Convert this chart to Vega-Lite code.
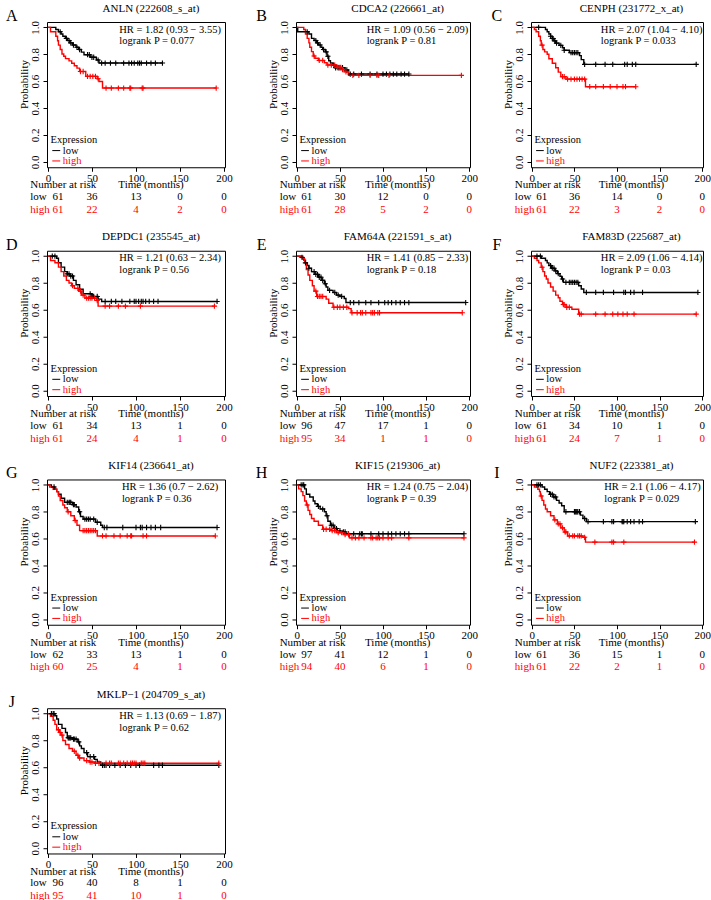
{
"$schema": "https://vega.github.io/schema/vega-lite/v6.json",
"padding": {"left": 5, "top": 2, "right": 0, "bottom": 0},
"autosize": {"type": "pad"},
"background": "white",
"config": {
 "view": {"stroke": "#000000", "strokeWidth": 1},
 "text": {"font": "Liberation Serif", "fontSize": 11, "color": "black"},
 "axis": {"labelFont": "Liberation Serif", "labelFontSize": 11, "labelColor": "black", "tickColor": "black", "tickSize": 4, "tickWidth": 1, "domain": false, "grid": false, "titleFont": "Liberation Serif", "titleFontSize": 11, "titleFontWeight": "normal", "titleColor": "black"},
 "axisX": {"labelPadding": 1, "labelFlush": false, "labelOverlap": false},
 "axisY": {"labelAngle": 270, "labelAlign": "center", "labelBaseline": "bottom", "labelPadding": 3, "labelOverlap": false}
},
"datasets": {
"info": [
{"p":"A","L":"A","gene":"ANLN (222608_s_at)","hr":"HR = 1.82 (0.93 − 3.55)","lr":"logrank P = 0.077"},
{"p":"B","L":"B","gene":"CDCA2 (226661_at)","hr":"HR = 1.09 (0.56 − 2.09)","lr":"logrank P = 0.81"},
{"p":"C","L":"C","gene":"CENPH (231772_x_at)","hr":"HR = 2.07 (1.04 − 4.10)","lr":"logrank P = 0.033"},
{"p":"D","L":"D","gene":"DEPDC1 (235545_at)","hr":"HR = 1.21 (0.63 − 2.34)","lr":"logrank P = 0.56"},
{"p":"E","L":"E","gene":"FAM64A (221591_s_at)","hr":"HR = 1.41 (0.85 − 2.33)","lr":"logrank P = 0.18"},
{"p":"F","L":"F","gene":"FAM83D (225687_at)","hr":"HR = 2.09 (1.06 − 4.14)","lr":"logrank P = 0.03"},
{"p":"G","L":"G","gene":"KIF14 (236641_at)","hr":"HR = 1.36 (0.7 − 2.62)","lr":"logrank P = 0.36"},
{"p":"H","L":"H","gene":"KIF15 (219306_at)","hr":"HR = 1.24 (0.75 − 2.04)","lr":"logrank P = 0.39"},
{"p":"I","L":"I","gene":"NUF2 (223381_at)","hr":"HR = 2.1 (1.06 − 4.17)","lr":"logrank P = 0.029"},
{"p":"J","L":"J","gene":"MKLP−1 (204709_s_at)","hr":"HR = 1.13 (0.69 − 1.87)","lr":"logrank P = 0.62"}
],
"risk": [
{"p":"A","g":"low","t":0,"n":61},{"p":"A","g":"low","t":50,"n":36},{"p":"A","g":"low","t":100,"n":13},{"p":"A","g":"low","t":150,"n":0},{"p":"A","g":"low","t":200,"n":0},
{"p":"A","g":"high","t":0,"n":61},{"p":"A","g":"high","t":50,"n":22},{"p":"A","g":"high","t":100,"n":4},{"p":"A","g":"high","t":150,"n":2},{"p":"A","g":"high","t":200,"n":0},
{"p":"B","g":"low","t":0,"n":61},{"p":"B","g":"low","t":50,"n":30},{"p":"B","g":"low","t":100,"n":12},{"p":"B","g":"low","t":150,"n":0},{"p":"B","g":"low","t":200,"n":0},
{"p":"B","g":"high","t":0,"n":61},{"p":"B","g":"high","t":50,"n":28},{"p":"B","g":"high","t":100,"n":5},{"p":"B","g":"high","t":150,"n":2},{"p":"B","g":"high","t":200,"n":0},
{"p":"C","g":"low","t":0,"n":61},{"p":"C","g":"low","t":50,"n":36},{"p":"C","g":"low","t":100,"n":14},{"p":"C","g":"low","t":150,"n":0},{"p":"C","g":"low","t":200,"n":0},
{"p":"C","g":"high","t":0,"n":61},{"p":"C","g":"high","t":50,"n":22},{"p":"C","g":"high","t":100,"n":3},{"p":"C","g":"high","t":150,"n":2},{"p":"C","g":"high","t":200,"n":0},
{"p":"D","g":"low","t":0,"n":61},{"p":"D","g":"low","t":50,"n":34},{"p":"D","g":"low","t":100,"n":13},{"p":"D","g":"low","t":150,"n":1},{"p":"D","g":"low","t":200,"n":0},
{"p":"D","g":"high","t":0,"n":61},{"p":"D","g":"high","t":50,"n":24},{"p":"D","g":"high","t":100,"n":4},{"p":"D","g":"high","t":150,"n":1},{"p":"D","g":"high","t":200,"n":0},
{"p":"E","g":"low","t":0,"n":96},{"p":"E","g":"low","t":50,"n":47},{"p":"E","g":"low","t":100,"n":17},{"p":"E","g":"low","t":150,"n":1},{"p":"E","g":"low","t":200,"n":0},
{"p":"E","g":"high","t":0,"n":95},{"p":"E","g":"high","t":50,"n":34},{"p":"E","g":"high","t":100,"n":1},{"p":"E","g":"high","t":150,"n":1},{"p":"E","g":"high","t":200,"n":0},
{"p":"F","g":"low","t":0,"n":61},{"p":"F","g":"low","t":50,"n":34},{"p":"F","g":"low","t":100,"n":10},{"p":"F","g":"low","t":150,"n":1},{"p":"F","g":"low","t":200,"n":0},
{"p":"F","g":"high","t":0,"n":61},{"p":"F","g":"high","t":50,"n":24},{"p":"F","g":"high","t":100,"n":7},{"p":"F","g":"high","t":150,"n":1},{"p":"F","g":"high","t":200,"n":0},
{"p":"G","g":"low","t":0,"n":62},{"p":"G","g":"low","t":50,"n":33},{"p":"G","g":"low","t":100,"n":13},{"p":"G","g":"low","t":150,"n":1},{"p":"G","g":"low","t":200,"n":0},
{"p":"G","g":"high","t":0,"n":60},{"p":"G","g":"high","t":50,"n":25},{"p":"G","g":"high","t":100,"n":4},{"p":"G","g":"high","t":150,"n":1},{"p":"G","g":"high","t":200,"n":0},
{"p":"H","g":"low","t":0,"n":97},{"p":"H","g":"low","t":50,"n":41},{"p":"H","g":"low","t":100,"n":12},{"p":"H","g":"low","t":150,"n":1},{"p":"H","g":"low","t":200,"n":0},
{"p":"H","g":"high","t":0,"n":94},{"p":"H","g":"high","t":50,"n":40},{"p":"H","g":"high","t":100,"n":6},{"p":"H","g":"high","t":150,"n":1},{"p":"H","g":"high","t":200,"n":0},
{"p":"I","g":"low","t":0,"n":61},{"p":"I","g":"low","t":50,"n":36},{"p":"I","g":"low","t":100,"n":15},{"p":"I","g":"low","t":150,"n":1},{"p":"I","g":"low","t":200,"n":0},
{"p":"I","g":"high","t":0,"n":61},{"p":"I","g":"high","t":50,"n":22},{"p":"I","g":"high","t":100,"n":2},{"p":"I","g":"high","t":150,"n":1},{"p":"I","g":"high","t":200,"n":0},
{"p":"J","g":"low","t":0,"n":96},{"p":"J","g":"low","t":50,"n":40},{"p":"J","g":"low","t":100,"n":8},{"p":"J","g":"low","t":150,"n":1},{"p":"J","g":"low","t":200,"n":0},
{"p":"J","g":"high","t":0,"n":95},{"p":"J","g":"high","t":50,"n":41},{"p":"J","g":"high","t":100,"n":10},{"p":"J","g":"high","t":150,"n":1},{"p":"J","g":"high","t":200,"n":0}
],
"km": [
{"p":"A","g":"low","t":0,"s":1},{"p":"A","g":"low","t":9,"s":0.984},{"p":"A","g":"low","t":12,"s":0.967},{"p":"A","g":"low","t":15,"s":0.951},{"p":"A","g":"low","t":17,"s":0.934},{"p":"A","g":"low","t":20,"s":0.918},{"p":"A","g":"low","t":22,"s":0.902},{"p":"A","g":"low","t":25,"s":0.885},{"p":"A","g":"low","t":28,"s":0.869},{"p":"A","g":"low","t":32,"s":0.852},{"p":"A","g":"low","t":35,"s":0.835},{"p":"A","g":"low","t":38,"s":0.816},{"p":"A","g":"low","t":41,"s":0.797},{"p":"A","g":"low","t":48,"s":0.778},{"p":"A","g":"low","t":55,"s":0.757},{"p":"A","g":"low","t":58,"s":0.735},{"p":"A","g":"low","t":130,"s":0.735},
{"p":"A","g":"high","t":0,"s":1},{"p":"A","g":"high","t":3,"s":0.967},{"p":"A","g":"high","t":9,"s":0.934},{"p":"A","g":"high","t":11,"s":0.901},{"p":"A","g":"high","t":12,"s":0.868},{"p":"A","g":"high","t":14,"s":0.835},{"p":"A","g":"high","t":16,"s":0.802},{"p":"A","g":"high","t":18,"s":0.785},{"p":"A","g":"high","t":20,"s":0.768},{"p":"A","g":"high","t":24,"s":0.751},{"p":"A","g":"high","t":27,"s":0.733},{"p":"A","g":"high","t":30,"s":0.715},{"p":"A","g":"high","t":33,"s":0.697},{"p":"A","g":"high","t":36,"s":0.672},{"p":"A","g":"high","t":43,"s":0.636},{"p":"A","g":"high","t":56,"s":0.618},{"p":"A","g":"high","t":58,"s":0.598},{"p":"A","g":"high","t":62,"s":0.549},{"p":"A","g":"high","t":191,"s":0.549},
{"p":"B","g":"low","t":0,"s":1},{"p":"B","g":"low","t":1,"s":0.967},{"p":"B","g":"low","t":14,"s":0.951},{"p":"B","g":"low","t":17,"s":0.918},{"p":"B","g":"low","t":20,"s":0.902},{"p":"B","g":"low","t":23,"s":0.885},{"p":"B","g":"low","t":25,"s":0.869},{"p":"B","g":"low","t":28,"s":0.852},{"p":"B","g":"low","t":30,"s":0.835},{"p":"B","g":"low","t":33,"s":0.818},{"p":"B","g":"low","t":35,"s":0.785},{"p":"B","g":"low","t":37,"s":0.752},{"p":"B","g":"low","t":39,"s":0.735},{"p":"B","g":"low","t":42,"s":0.718},{"p":"B","g":"low","t":44,"s":0.7},{"p":"B","g":"low","t":56,"s":0.683},{"p":"B","g":"low","t":60,"s":0.653},{"p":"B","g":"low","t":130,"s":0.653},
{"p":"B","g":"high","t":0,"s":1},{"p":"B","g":"high","t":8,"s":0.984},{"p":"B","g":"high","t":10,"s":0.951},{"p":"B","g":"high","t":12,"s":0.918},{"p":"B","g":"high","t":14,"s":0.885},{"p":"B","g":"high","t":15,"s":0.852},{"p":"B","g":"high","t":17,"s":0.82},{"p":"B","g":"high","t":19,"s":0.787},{"p":"B","g":"high","t":21,"s":0.77},{"p":"B","g":"high","t":25,"s":0.754},{"p":"B","g":"high","t":32,"s":0.737},{"p":"B","g":"high","t":35,"s":0.72},{"p":"B","g":"high","t":46,"s":0.703},{"p":"B","g":"high","t":52,"s":0.686},{"p":"B","g":"high","t":55,"s":0.67},{"p":"B","g":"high","t":60,"s":0.643},{"p":"B","g":"high","t":191,"s":0.643},
{"p":"C","g":"low","t":0,"s":1},{"p":"C","g":"low","t":16,"s":0.984},{"p":"C","g":"low","t":18,"s":0.967},{"p":"C","g":"low","t":20,"s":0.951},{"p":"C","g":"low","t":22,"s":0.934},{"p":"C","g":"low","t":24,"s":0.917},{"p":"C","g":"low","t":26,"s":0.9},{"p":"C","g":"low","t":28,"s":0.883},{"p":"C","g":"low","t":32,"s":0.866},{"p":"C","g":"low","t":36,"s":0.848},{"p":"C","g":"low","t":38,"s":0.83},{"p":"C","g":"low","t":44,"s":0.812},{"p":"C","g":"low","t":56,"s":0.79},{"p":"C","g":"low","t":58,"s":0.76},{"p":"C","g":"low","t":61,"s":0.725},{"p":"C","g":"low","t":193,"s":0.725},
{"p":"C","g":"high","t":0,"s":1},{"p":"C","g":"high","t":3,"s":0.984},{"p":"C","g":"high","t":5,"s":0.967},{"p":"C","g":"high","t":8,"s":0.934},{"p":"C","g":"high","t":10,"s":0.901},{"p":"C","g":"high","t":11,"s":0.868},{"p":"C","g":"high","t":13,"s":0.835},{"p":"C","g":"high","t":15,"s":0.818},{"p":"C","g":"high","t":18,"s":0.8},{"p":"C","g":"high","t":20,"s":0.767},{"p":"C","g":"high","t":24,"s":0.733},{"p":"C","g":"high","t":28,"s":0.7},{"p":"C","g":"high","t":31,"s":0.667},{"p":"C","g":"high","t":34,"s":0.634},{"p":"C","g":"high","t":40,"s":0.615},{"p":"C","g":"high","t":63,"s":0.559},{"p":"C","g":"high","t":122,"s":0.559},
{"p":"D","g":"low","t":0,"s":1},{"p":"D","g":"low","t":10,"s":0.984},{"p":"D","g":"low","t":12,"s":0.951},{"p":"D","g":"low","t":15,"s":0.918},{"p":"D","g":"low","t":19,"s":0.885},{"p":"D","g":"low","t":22,"s":0.868},{"p":"D","g":"low","t":25,"s":0.852},{"p":"D","g":"low","t":29,"s":0.82},{"p":"D","g":"low","t":32,"s":0.787},{"p":"D","g":"low","t":36,"s":0.754},{"p":"D","g":"low","t":40,"s":0.72},{"p":"D","g":"low","t":50,"s":0.7},{"p":"D","g":"low","t":57,"s":0.68},{"p":"D","g":"low","t":61,"s":0.663},{"p":"D","g":"low","t":192,"s":0.663},
{"p":"D","g":"high","t":0,"s":1},{"p":"D","g":"high","t":3,"s":0.967},{"p":"D","g":"high","t":8,"s":0.951},{"p":"D","g":"high","t":12,"s":0.918},{"p":"D","g":"high","t":15,"s":0.885},{"p":"D","g":"high","t":18,"s":0.852},{"p":"D","g":"high","t":21,"s":0.82},{"p":"D","g":"high","t":24,"s":0.8},{"p":"D","g":"high","t":27,"s":0.78},{"p":"D","g":"high","t":30,"s":0.76},{"p":"D","g":"high","t":35,"s":0.74},{"p":"D","g":"high","t":38,"s":0.71},{"p":"D","g":"high","t":42,"s":0.688},{"p":"D","g":"high","t":55,"s":0.67},{"p":"D","g":"high","t":57,"s":0.628},{"p":"D","g":"high","t":189,"s":0.628},
{"p":"E","g":"low","t":0,"s":1},{"p":"E","g":"low","t":5,"s":0.99},{"p":"E","g":"low","t":8,"s":0.97},{"p":"E","g":"low","t":10,"s":0.95},{"p":"E","g":"low","t":12,"s":0.93},{"p":"E","g":"low","t":14,"s":0.91},{"p":"E","g":"low","t":17,"s":0.885},{"p":"E","g":"low","t":21,"s":0.864},{"p":"E","g":"low","t":25,"s":0.843},{"p":"E","g":"low","t":29,"s":0.82},{"p":"E","g":"low","t":32,"s":0.795},{"p":"E","g":"low","t":34,"s":0.77},{"p":"E","g":"low","t":36,"s":0.745},{"p":"E","g":"low","t":42,"s":0.73},{"p":"E","g":"low","t":46,"s":0.71},{"p":"E","g":"low","t":50,"s":0.7},{"p":"E","g":"low","t":55,"s":0.685},{"p":"E","g":"low","t":57,"s":0.655},{"p":"E","g":"low","t":196,"s":0.655},
{"p":"E","g":"high","t":0,"s":1},{"p":"E","g":"high","t":7,"s":0.98},{"p":"E","g":"high","t":9,"s":0.95},{"p":"E","g":"high","t":11,"s":0.9},{"p":"E","g":"high","t":13,"s":0.86},{"p":"E","g":"high","t":15,"s":0.82},{"p":"E","g":"high","t":18,"s":0.78},{"p":"E","g":"high","t":20,"s":0.74},{"p":"E","g":"high","t":23,"s":0.7},{"p":"E","g":"high","t":34,"s":0.68},{"p":"E","g":"high","t":37,"s":0.65},{"p":"E","g":"high","t":42,"s":0.62},{"p":"E","g":"high","t":60,"s":0.61},{"p":"E","g":"high","t":63,"s":0.579},{"p":"E","g":"high","t":192,"s":0.579},
{"p":"F","g":"low","t":0,"s":1},{"p":"F","g":"low","t":11,"s":0.984},{"p":"F","g":"low","t":16,"s":0.967},{"p":"F","g":"low","t":18,"s":0.95},{"p":"F","g":"low","t":20,"s":0.93},{"p":"F","g":"low","t":23,"s":0.91},{"p":"F","g":"low","t":27,"s":0.89},{"p":"F","g":"low","t":30,"s":0.87},{"p":"F","g":"low","t":33,"s":0.85},{"p":"F","g":"low","t":35,"s":0.83},{"p":"F","g":"low","t":37,"s":0.805},{"p":"F","g":"low","t":55,"s":0.78},{"p":"F","g":"low","t":58,"s":0.755},{"p":"F","g":"low","t":61,"s":0.73},{"p":"F","g":"low","t":195,"s":0.73},
{"p":"F","g":"high","t":0,"s":1},{"p":"F","g":"high","t":3,"s":0.984},{"p":"F","g":"high","t":6,"s":0.967},{"p":"F","g":"high","t":8,"s":0.95},{"p":"F","g":"high","t":11,"s":0.917},{"p":"F","g":"high","t":13,"s":0.885},{"p":"F","g":"high","t":15,"s":0.852},{"p":"F","g":"high","t":17,"s":0.83},{"p":"F","g":"high","t":19,"s":0.8},{"p":"F","g":"high","t":22,"s":0.77},{"p":"F","g":"high","t":25,"s":0.74},{"p":"F","g":"high","t":28,"s":0.71},{"p":"F","g":"high","t":31,"s":0.69},{"p":"F","g":"high","t":33,"s":0.665},{"p":"F","g":"high","t":36,"s":0.64},{"p":"F","g":"high","t":40,"s":0.62},{"p":"F","g":"high","t":47,"s":0.605},{"p":"F","g":"high","t":55,"s":0.569},{"p":"F","g":"high","t":193,"s":0.569},
{"p":"G","g":"low","t":0,"s":1},{"p":"G","g":"low","t":4,"s":0.984},{"p":"G","g":"low","t":8,"s":0.967},{"p":"G","g":"low","t":10,"s":0.95},{"p":"G","g":"low","t":12,"s":0.93},{"p":"G","g":"low","t":15,"s":0.9},{"p":"G","g":"low","t":19,"s":0.87},{"p":"G","g":"low","t":28,"s":0.853},{"p":"G","g":"low","t":32,"s":0.835},{"p":"G","g":"low","t":35,"s":0.8},{"p":"G","g":"low","t":37,"s":0.765},{"p":"G","g":"low","t":40,"s":0.745},{"p":"G","g":"low","t":54,"s":0.722},{"p":"G","g":"low","t":60,"s":0.7},{"p":"G","g":"low","t":62,"s":0.683},{"p":"G","g":"low","t":192,"s":0.683},
{"p":"G","g":"high","t":0,"s":1},{"p":"G","g":"high","t":2,"s":0.984},{"p":"G","g":"high","t":6,"s":0.967},{"p":"G","g":"high","t":10,"s":0.95},{"p":"G","g":"high","t":12,"s":0.917},{"p":"G","g":"high","t":14,"s":0.884},{"p":"G","g":"high","t":17,"s":0.85},{"p":"G","g":"high","t":19,"s":0.83},{"p":"G","g":"high","t":22,"s":0.8},{"p":"G","g":"high","t":26,"s":0.77},{"p":"G","g":"high","t":30,"s":0.735},{"p":"G","g":"high","t":33,"s":0.7},{"p":"G","g":"high","t":36,"s":0.66},{"p":"G","g":"high","t":56,"s":0.62},{"p":"G","g":"high","t":190,"s":0.62},
{"p":"H","g":"low","t":0,"s":1},{"p":"H","g":"low","t":9,"s":0.97},{"p":"H","g":"low","t":11,"s":0.93},{"p":"H","g":"low","t":15,"s":0.91},{"p":"H","g":"low","t":19,"s":0.88},{"p":"H","g":"low","t":21,"s":0.86},{"p":"H","g":"low","t":24,"s":0.84},{"p":"H","g":"low","t":27,"s":0.82},{"p":"H","g":"low","t":32,"s":0.8},{"p":"H","g":"low","t":34,"s":0.77},{"p":"H","g":"low","t":36,"s":0.73},{"p":"H","g":"low","t":39,"s":0.7},{"p":"H","g":"low","t":43,"s":0.675},{"p":"H","g":"low","t":47,"s":0.66},{"p":"H","g":"low","t":52,"s":0.65},{"p":"H","g":"low","t":57,"s":0.636},{"p":"H","g":"low","t":194,"s":0.636},
{"p":"H","g":"high","t":0,"s":1},{"p":"H","g":"high","t":2,"s":0.97},{"p":"H","g":"high","t":5,"s":0.95},{"p":"H","g":"high","t":7,"s":0.92},{"p":"H","g":"high","t":9,"s":0.88},{"p":"H","g":"high","t":11,"s":0.85},{"p":"H","g":"high","t":13,"s":0.81},{"p":"H","g":"high","t":15,"s":0.78},{"p":"H","g":"high","t":17,"s":0.75},{"p":"H","g":"high","t":20,"s":0.73},{"p":"H","g":"high","t":25,"s":0.7},{"p":"H","g":"high","t":30,"s":0.67},{"p":"H","g":"high","t":40,"s":0.66},{"p":"H","g":"high","t":46,"s":0.645},{"p":"H","g":"high","t":55,"s":0.63},{"p":"H","g":"high","t":61,"s":0.606},{"p":"H","g":"high","t":194,"s":0.606},
{"p":"I","g":"low","t":0,"s":1},{"p":"I","g":"low","t":12,"s":0.984},{"p":"I","g":"low","t":15,"s":0.967},{"p":"I","g":"low","t":18,"s":0.95},{"p":"I","g":"low","t":21,"s":0.93},{"p":"I","g":"low","t":25,"s":0.91},{"p":"I","g":"low","t":29,"s":0.885},{"p":"I","g":"low","t":32,"s":0.865},{"p":"I","g":"low","t":35,"s":0.845},{"p":"I","g":"low","t":38,"s":0.8},{"p":"I","g":"low","t":57,"s":0.775},{"p":"I","g":"low","t":60,"s":0.75},{"p":"I","g":"low","t":64,"s":0.727},{"p":"I","g":"low","t":192,"s":0.727},
{"p":"I","g":"high","t":0,"s":1},{"p":"I","g":"high","t":3,"s":0.984},{"p":"I","g":"high","t":7,"s":0.967},{"p":"I","g":"high","t":9,"s":0.95},{"p":"I","g":"high","t":10,"s":0.917},{"p":"I","g":"high","t":12,"s":0.885},{"p":"I","g":"high","t":14,"s":0.85},{"p":"I","g":"high","t":16,"s":0.82},{"p":"I","g":"high","t":18,"s":0.8},{"p":"I","g":"high","t":22,"s":0.77},{"p":"I","g":"high","t":26,"s":0.74},{"p":"I","g":"high","t":30,"s":0.71},{"p":"I","g":"high","t":34,"s":0.68},{"p":"I","g":"high","t":38,"s":0.65},{"p":"I","g":"high","t":42,"s":0.62},{"p":"I","g":"high","t":60,"s":0.61},{"p":"I","g":"high","t":63,"s":0.574},{"p":"I","g":"high","t":191,"s":0.574},
{"p":"J","g":"low","t":0,"s":1},{"p":"J","g":"low","t":8,"s":0.984},{"p":"J","g":"low","t":10,"s":0.96},{"p":"J","g":"low","t":12,"s":0.92},{"p":"J","g":"low","t":16,"s":0.89},{"p":"J","g":"low","t":20,"s":0.86},{"p":"J","g":"low","t":22,"s":0.82},{"p":"J","g":"low","t":28,"s":0.81},{"p":"J","g":"low","t":34,"s":0.79},{"p":"J","g":"low","t":36,"s":0.76},{"p":"J","g":"low","t":38,"s":0.74},{"p":"J","g":"low","t":41,"s":0.71},{"p":"J","g":"low","t":45,"s":0.68},{"p":"J","g":"low","t":53,"s":0.66},{"p":"J","g":"low","t":56,"s":0.64},{"p":"J","g":"low","t":60,"s":0.616},{"p":"J","g":"low","t":194,"s":0.616},
{"p":"J","g":"high","t":0,"s":1},{"p":"J","g":"high","t":3,"s":0.98},{"p":"J","g":"high","t":6,"s":0.95},{"p":"J","g":"high","t":8,"s":0.92},{"p":"J","g":"high","t":10,"s":0.88},{"p":"J","g":"high","t":13,"s":0.86},{"p":"J","g":"high","t":15,"s":0.84},{"p":"J","g":"high","t":17,"s":0.8},{"p":"J","g":"high","t":20,"s":0.77},{"p":"J","g":"high","t":24,"s":0.74},{"p":"J","g":"high","t":28,"s":0.72},{"p":"J","g":"high","t":32,"s":0.69},{"p":"J","g":"high","t":35,"s":0.67},{"p":"J","g":"high","t":41,"s":0.65},{"p":"J","g":"high","t":47,"s":0.64},{"p":"J","g":"high","t":53,"s":0.631},{"p":"J","g":"high","t":194,"s":0.631}
],
"cen": [
{"p":"A","g":"low","t":14,"s":0.967},{"p":"A","g":"low","t":21,"s":0.918},{"p":"A","g":"low","t":24,"s":0.902},{"p":"A","g":"low","t":26,"s":0.885},{"p":"A","g":"low","t":29,"s":0.869},{"p":"A","g":"low","t":33,"s":0.852},{"p":"A","g":"low","t":36,"s":0.835},{"p":"A","g":"low","t":45,"s":0.797},{"p":"A","g":"low","t":47,"s":0.797},{"p":"A","g":"low","t":50,"s":0.778},{"p":"A","g":"low","t":52,"s":0.778},{"p":"A","g":"low","t":57,"s":0.757},{"p":"A","g":"low","t":61,"s":0.735},{"p":"A","g":"low","t":65,"s":0.735},{"p":"A","g":"low","t":71,"s":0.735},{"p":"A","g":"low","t":77,"s":0.735},{"p":"A","g":"low","t":86,"s":0.735},{"p":"A","g":"low","t":92,"s":0.735},{"p":"A","g":"low","t":95,"s":0.735},{"p":"A","g":"low","t":98,"s":0.735},{"p":"A","g":"low","t":102,"s":0.735},{"p":"A","g":"low","t":104,"s":0.735},{"p":"A","g":"low","t":106,"s":0.735},{"p":"A","g":"low","t":112,"s":0.735},{"p":"A","g":"low","t":117,"s":0.735},{"p":"A","g":"low","t":122,"s":0.735},{"p":"A","g":"low","t":130,"s":0.735},
{"p":"A","g":"high","t":37,"s":0.672},{"p":"A","g":"high","t":40,"s":0.672},{"p":"A","g":"high","t":45,"s":0.636},{"p":"A","g":"high","t":48,"s":0.636},{"p":"A","g":"high","t":51,"s":0.636},{"p":"A","g":"high","t":54,"s":0.636},{"p":"A","g":"high","t":57,"s":0.618},{"p":"A","g":"high","t":66,"s":0.549},{"p":"A","g":"high","t":72,"s":0.549},{"p":"A","g":"high","t":80,"s":0.549},{"p":"A","g":"high","t":86,"s":0.549},{"p":"A","g":"high","t":93,"s":0.549},{"p":"A","g":"high","t":94,"s":0.549},{"p":"A","g":"high","t":107,"s":0.549},{"p":"A","g":"high","t":108,"s":0.549},{"p":"A","g":"high","t":191,"s":0.549},
{"p":"B","g":"low","t":12,"s":0.967},{"p":"B","g":"low","t":22,"s":0.902},{"p":"B","g":"low","t":24,"s":0.885},{"p":"B","g":"low","t":27,"s":0.869},{"p":"B","g":"low","t":31,"s":0.835},{"p":"B","g":"low","t":34,"s":0.818},{"p":"B","g":"low","t":36,"s":0.785},{"p":"B","g":"low","t":43,"s":0.718},{"p":"B","g":"low","t":45,"s":0.7},{"p":"B","g":"low","t":48,"s":0.7},{"p":"B","g":"low","t":50,"s":0.7},{"p":"B","g":"low","t":53,"s":0.7},{"p":"B","g":"low","t":58,"s":0.683},{"p":"B","g":"low","t":62,"s":0.653},{"p":"B","g":"low","t":66,"s":0.653},{"p":"B","g":"low","t":75,"s":0.653},{"p":"B","g":"low","t":85,"s":0.653},{"p":"B","g":"low","t":93,"s":0.653},{"p":"B","g":"low","t":100,"s":0.653},{"p":"B","g":"low","t":104,"s":0.653},{"p":"B","g":"low","t":108,"s":0.653},{"p":"B","g":"low","t":112,"s":0.653},{"p":"B","g":"low","t":116,"s":0.653},{"p":"B","g":"low","t":121,"s":0.653},{"p":"B","g":"low","t":125,"s":0.653},{"p":"B","g":"low","t":130,"s":0.653},
{"p":"B","g":"high","t":20,"s":0.787},{"p":"B","g":"high","t":26,"s":0.754},{"p":"B","g":"high","t":30,"s":0.754},{"p":"B","g":"high","t":36,"s":0.72},{"p":"B","g":"high","t":40,"s":0.72},{"p":"B","g":"high","t":44,"s":0.72},{"p":"B","g":"high","t":47,"s":0.703},{"p":"B","g":"high","t":49,"s":0.703},{"p":"B","g":"high","t":51,"s":0.703},{"p":"B","g":"high","t":53,"s":0.686},{"p":"B","g":"high","t":57,"s":0.67},{"p":"B","g":"high","t":65,"s":0.643},{"p":"B","g":"high","t":72,"s":0.643},{"p":"B","g":"high","t":85,"s":0.643},{"p":"B","g":"high","t":93,"s":0.643},{"p":"B","g":"high","t":95,"s":0.643},{"p":"B","g":"high","t":107,"s":0.643},{"p":"B","g":"high","t":191,"s":0.643},
{"p":"C","g":"low","t":8,"s":1},{"p":"C","g":"low","t":22,"s":0.934},{"p":"C","g":"low","t":24,"s":0.917},{"p":"C","g":"low","t":25,"s":0.917},{"p":"C","g":"low","t":27,"s":0.9},{"p":"C","g":"low","t":29,"s":0.883},{"p":"C","g":"low","t":34,"s":0.866},{"p":"C","g":"low","t":38,"s":0.83},{"p":"C","g":"low","t":46,"s":0.812},{"p":"C","g":"low","t":48,"s":0.812},{"p":"C","g":"low","t":50,"s":0.812},{"p":"C","g":"low","t":52,"s":0.812},{"p":"C","g":"low","t":54,"s":0.812},{"p":"C","g":"low","t":62,"s":0.725},{"p":"C","g":"low","t":75,"s":0.725},{"p":"C","g":"low","t":86,"s":0.725},{"p":"C","g":"low","t":95,"s":0.725},{"p":"C","g":"low","t":109,"s":0.725},{"p":"C","g":"low","t":112,"s":0.725},{"p":"C","g":"low","t":118,"s":0.725},{"p":"C","g":"low","t":122,"s":0.725},{"p":"C","g":"low","t":193,"s":0.725},
{"p":"C","g":"high","t":12,"s":0.868},{"p":"C","g":"high","t":36,"s":0.634},{"p":"C","g":"high","t":38,"s":0.634},{"p":"C","g":"high","t":42,"s":0.615},{"p":"C","g":"high","t":46,"s":0.615},{"p":"C","g":"high","t":50,"s":0.615},{"p":"C","g":"high","t":53,"s":0.615},{"p":"C","g":"high","t":56,"s":0.615},{"p":"C","g":"high","t":59,"s":0.615},{"p":"C","g":"high","t":62,"s":0.615},{"p":"C","g":"high","t":68,"s":0.559},{"p":"C","g":"high","t":75,"s":0.559},{"p":"C","g":"high","t":84,"s":0.559},{"p":"C","g":"high","t":92,"s":0.559},{"p":"C","g":"high","t":100,"s":0.559},{"p":"C","g":"high","t":107,"s":0.559},{"p":"C","g":"high","t":110,"s":0.559},{"p":"C","g":"high","t":122,"s":0.559},
{"p":"D","g":"low","t":5,"s":1},{"p":"D","g":"low","t":8,"s":1},{"p":"D","g":"low","t":22,"s":0.868},{"p":"D","g":"low","t":24,"s":0.868},{"p":"D","g":"low","t":26,"s":0.852},{"p":"D","g":"low","t":28,"s":0.852},{"p":"D","g":"low","t":48,"s":0.72},{"p":"D","g":"low","t":50,"s":0.7},{"p":"D","g":"low","t":51,"s":0.7},{"p":"D","g":"low","t":52,"s":0.7},{"p":"D","g":"low","t":56,"s":0.7},{"p":"D","g":"low","t":65,"s":0.663},{"p":"D","g":"low","t":72,"s":0.663},{"p":"D","g":"low","t":77,"s":0.663},{"p":"D","g":"low","t":84,"s":0.663},{"p":"D","g":"low","t":93,"s":0.663},{"p":"D","g":"low","t":98,"s":0.663},{"p":"D","g":"low","t":100,"s":0.663},{"p":"D","g":"low","t":103,"s":0.663},{"p":"D","g":"low","t":106,"s":0.663},{"p":"D","g":"low","t":108,"s":0.663},{"p":"D","g":"low","t":111,"s":0.663},{"p":"D","g":"low","t":115,"s":0.663},{"p":"D","g":"low","t":120,"s":0.663},{"p":"D","g":"low","t":125,"s":0.663},{"p":"D","g":"low","t":192,"s":0.663},
{"p":"D","g":"high","t":28,"s":0.78},{"p":"D","g":"high","t":34,"s":0.76},{"p":"D","g":"high","t":37,"s":0.74},{"p":"D","g":"high","t":40,"s":0.71},{"p":"D","g":"high","t":44,"s":0.688},{"p":"D","g":"high","t":46,"s":0.688},{"p":"D","g":"high","t":48,"s":0.688},{"p":"D","g":"high","t":50,"s":0.688},{"p":"D","g":"high","t":53,"s":0.688},{"p":"D","g":"high","t":56,"s":0.67},{"p":"D","g":"high","t":65,"s":0.628},{"p":"D","g":"high","t":70,"s":0.628},{"p":"D","g":"high","t":80,"s":0.628},{"p":"D","g":"high","t":88,"s":0.628},{"p":"D","g":"high","t":105,"s":0.628},{"p":"D","g":"high","t":189,"s":0.628},
{"p":"E","g":"low","t":6,"s":0.99},{"p":"E","g":"low","t":10,"s":0.95},{"p":"E","g":"low","t":14,"s":0.91},{"p":"E","g":"low","t":20,"s":0.885},{"p":"E","g":"low","t":22,"s":0.864},{"p":"E","g":"low","t":24,"s":0.864},{"p":"E","g":"low","t":26,"s":0.843},{"p":"E","g":"low","t":28,"s":0.843},{"p":"E","g":"low","t":30,"s":0.82},{"p":"E","g":"low","t":33,"s":0.795},{"p":"E","g":"low","t":38,"s":0.745},{"p":"E","g":"low","t":44,"s":0.73},{"p":"E","g":"low","t":48,"s":0.71},{"p":"E","g":"low","t":52,"s":0.7},{"p":"E","g":"low","t":62,"s":0.655},{"p":"E","g":"low","t":66,"s":0.655},{"p":"E","g":"low","t":72,"s":0.655},{"p":"E","g":"low","t":80,"s":0.655},{"p":"E","g":"low","t":86,"s":0.655},{"p":"E","g":"low","t":95,"s":0.655},{"p":"E","g":"low","t":102,"s":0.655},{"p":"E","g":"low","t":106,"s":0.655},{"p":"E","g":"low","t":110,"s":0.655},{"p":"E","g":"low","t":115,"s":0.655},{"p":"E","g":"low","t":120,"s":0.655},{"p":"E","g":"low","t":125,"s":0.655},{"p":"E","g":"low","t":130,"s":0.655},{"p":"E","g":"low","t":196,"s":0.655},
{"p":"E","g":"high","t":22,"s":0.74},{"p":"E","g":"high","t":24,"s":0.7},{"p":"E","g":"high","t":26,"s":0.7},{"p":"E","g":"high","t":28,"s":0.7},{"p":"E","g":"high","t":30,"s":0.7},{"p":"E","g":"high","t":43,"s":0.62},{"p":"E","g":"high","t":47,"s":0.62},{"p":"E","g":"high","t":50,"s":0.62},{"p":"E","g":"high","t":54,"s":0.62},{"p":"E","g":"high","t":58,"s":0.62},{"p":"E","g":"high","t":64,"s":0.579},{"p":"E","g":"high","t":70,"s":0.579},{"p":"E","g":"high","t":74,"s":0.579},{"p":"E","g":"high","t":76,"s":0.579},{"p":"E","g":"high","t":80,"s":0.579},{"p":"E","g":"high","t":86,"s":0.579},{"p":"E","g":"high","t":88,"s":0.579},{"p":"E","g":"high","t":90,"s":0.579},{"p":"E","g":"high","t":94,"s":0.579},{"p":"E","g":"high","t":96,"s":0.579},{"p":"E","g":"high","t":192,"s":0.579},
{"p":"F","g":"low","t":6,"s":1},{"p":"F","g":"low","t":10,"s":1},{"p":"F","g":"low","t":22,"s":0.93},{"p":"F","g":"low","t":24,"s":0.91},{"p":"F","g":"low","t":26,"s":0.91},{"p":"F","g":"low","t":28,"s":0.89},{"p":"F","g":"low","t":31,"s":0.87},{"p":"F","g":"low","t":36,"s":0.83},{"p":"F","g":"low","t":40,"s":0.805},{"p":"F","g":"low","t":44,"s":0.805},{"p":"F","g":"low","t":46,"s":0.805},{"p":"F","g":"low","t":48,"s":0.805},{"p":"F","g":"low","t":50,"s":0.805},{"p":"F","g":"low","t":52,"s":0.805},{"p":"F","g":"low","t":54,"s":0.805},{"p":"F","g":"low","t":64,"s":0.73},{"p":"F","g":"low","t":75,"s":0.73},{"p":"F","g":"low","t":84,"s":0.73},{"p":"F","g":"low","t":96,"s":0.73},{"p":"F","g":"low","t":108,"s":0.73},{"p":"F","g":"low","t":110,"s":0.73},{"p":"F","g":"low","t":116,"s":0.73},{"p":"F","g":"low","t":120,"s":0.73},{"p":"F","g":"low","t":130,"s":0.73},{"p":"F","g":"low","t":195,"s":0.73},
{"p":"F","g":"high","t":12,"s":0.917},{"p":"F","g":"high","t":37,"s":0.64},{"p":"F","g":"high","t":38,"s":0.64},{"p":"F","g":"high","t":41,"s":0.62},{"p":"F","g":"high","t":44,"s":0.62},{"p":"F","g":"high","t":56,"s":0.569},{"p":"F","g":"high","t":58,"s":0.569},{"p":"F","g":"high","t":75,"s":0.569},{"p":"F","g":"high","t":86,"s":0.569},{"p":"F","g":"high","t":95,"s":0.569},{"p":"F","g":"high","t":101,"s":0.569},{"p":"F","g":"high","t":107,"s":0.569},{"p":"F","g":"high","t":112,"s":0.569},{"p":"F","g":"high","t":120,"s":0.569},{"p":"F","g":"high","t":193,"s":0.569},
{"p":"G","g":"low","t":7,"s":0.984},{"p":"G","g":"low","t":22,"s":0.87},{"p":"G","g":"low","t":24,"s":0.87},{"p":"G","g":"low","t":25,"s":0.87},{"p":"G","g":"low","t":26,"s":0.87},{"p":"G","g":"low","t":29,"s":0.853},{"p":"G","g":"low","t":30,"s":0.853},{"p":"G","g":"low","t":36,"s":0.8},{"p":"G","g":"low","t":42,"s":0.745},{"p":"G","g":"low","t":44,"s":0.745},{"p":"G","g":"low","t":46,"s":0.745},{"p":"G","g":"low","t":48,"s":0.745},{"p":"G","g":"low","t":52,"s":0.745},{"p":"G","g":"low","t":56,"s":0.722},{"p":"G","g":"low","t":64,"s":0.683},{"p":"G","g":"low","t":67,"s":0.683},{"p":"G","g":"low","t":85,"s":0.683},{"p":"G","g":"low","t":100,"s":0.683},{"p":"G","g":"low","t":105,"s":0.683},{"p":"G","g":"low","t":107,"s":0.683},{"p":"G","g":"low","t":112,"s":0.683},{"p":"G","g":"low","t":117,"s":0.683},{"p":"G","g":"low","t":122,"s":0.683},{"p":"G","g":"low","t":128,"s":0.683},{"p":"G","g":"low","t":192,"s":0.683},
{"p":"G","g":"high","t":23,"s":0.8},{"p":"G","g":"high","t":31,"s":0.735},{"p":"G","g":"high","t":40,"s":0.66},{"p":"G","g":"high","t":42,"s":0.66},{"p":"G","g":"high","t":44,"s":0.66},{"p":"G","g":"high","t":46,"s":0.66},{"p":"G","g":"high","t":48,"s":0.66},{"p":"G","g":"high","t":50,"s":0.66},{"p":"G","g":"high","t":52,"s":0.66},{"p":"G","g":"high","t":54,"s":0.66},{"p":"G","g":"high","t":62,"s":0.62},{"p":"G","g":"high","t":66,"s":0.62},{"p":"G","g":"high","t":75,"s":0.62},{"p":"G","g":"high","t":82,"s":0.62},{"p":"G","g":"high","t":90,"s":0.62},{"p":"G","g":"high","t":94,"s":0.62},{"p":"G","g":"high","t":95,"s":0.62},{"p":"G","g":"high","t":108,"s":0.62},{"p":"G","g":"high","t":112,"s":0.62},{"p":"G","g":"high","t":190,"s":0.62},
{"p":"H","g":"low","t":5,"s":1},{"p":"H","g":"low","t":7,"s":1},{"p":"H","g":"low","t":8,"s":1},{"p":"H","g":"low","t":25,"s":0.84},{"p":"H","g":"low","t":30,"s":0.82},{"p":"H","g":"low","t":35,"s":0.77},{"p":"H","g":"low","t":40,"s":0.7},{"p":"H","g":"low","t":42,"s":0.7},{"p":"H","g":"low","t":44,"s":0.675},{"p":"H","g":"low","t":46,"s":0.675},{"p":"H","g":"low","t":50,"s":0.66},{"p":"H","g":"low","t":54,"s":0.65},{"p":"H","g":"low","t":56,"s":0.65},{"p":"H","g":"low","t":60,"s":0.636},{"p":"H","g":"low","t":66,"s":0.636},{"p":"H","g":"low","t":73,"s":0.636},{"p":"H","g":"low","t":75,"s":0.636},{"p":"H","g":"low","t":76,"s":0.636},{"p":"H","g":"low","t":86,"s":0.636},{"p":"H","g":"low","t":95,"s":0.636},{"p":"H","g":"low","t":100,"s":0.636},{"p":"H","g":"low","t":106,"s":0.636},{"p":"H","g":"low","t":110,"s":0.636},{"p":"H","g":"low","t":115,"s":0.636},{"p":"H","g":"low","t":120,"s":0.636},{"p":"H","g":"low","t":125,"s":0.636},{"p":"H","g":"low","t":130,"s":0.636},{"p":"H","g":"low","t":194,"s":0.636},
{"p":"H","g":"high","t":12,"s":0.85},{"p":"H","g":"high","t":31,"s":0.67},{"p":"H","g":"high","t":34,"s":0.67},{"p":"H","g":"high","t":38,"s":0.67},{"p":"H","g":"high","t":41,"s":0.66},{"p":"H","g":"high","t":44,"s":0.66},{"p":"H","g":"high","t":48,"s":0.645},{"p":"H","g":"high","t":52,"s":0.645},{"p":"H","g":"high","t":56,"s":0.63},{"p":"H","g":"high","t":60,"s":0.63},{"p":"H","g":"high","t":64,"s":0.606},{"p":"H","g":"high","t":68,"s":0.606},{"p":"H","g":"high","t":72,"s":0.606},{"p":"H","g":"high","t":78,"s":0.606},{"p":"H","g":"high","t":86,"s":0.606},{"p":"H","g":"high","t":88,"s":0.606},{"p":"H","g":"high","t":92,"s":0.606},{"p":"H","g":"high","t":94,"s":0.606},{"p":"H","g":"high","t":96,"s":0.606},{"p":"H","g":"high","t":100,"s":0.606},{"p":"H","g":"high","t":106,"s":0.606},{"p":"H","g":"high","t":110,"s":0.606},{"p":"H","g":"high","t":130,"s":0.606},{"p":"H","g":"high","t":194,"s":0.606},
{"p":"I","g":"low","t":6,"s":1},{"p":"I","g":"low","t":8,"s":1},{"p":"I","g":"low","t":10,"s":1},{"p":"I","g":"low","t":22,"s":0.93},{"p":"I","g":"low","t":24,"s":0.93},{"p":"I","g":"low","t":26,"s":0.91},{"p":"I","g":"low","t":28,"s":0.91},{"p":"I","g":"low","t":40,"s":0.8},{"p":"I","g":"low","t":50,"s":0.8},{"p":"I","g":"low","t":51,"s":0.8},{"p":"I","g":"low","t":52,"s":0.8},{"p":"I","g":"low","t":53,"s":0.8},{"p":"I","g":"low","t":54,"s":0.8},{"p":"I","g":"low","t":56,"s":0.8},{"p":"I","g":"low","t":62,"s":0.75},{"p":"I","g":"low","t":66,"s":0.727},{"p":"I","g":"low","t":84,"s":0.727},{"p":"I","g":"low","t":94,"s":0.727},{"p":"I","g":"low","t":96,"s":0.727},{"p":"I","g":"low","t":106,"s":0.727},{"p":"I","g":"low","t":107,"s":0.727},{"p":"I","g":"low","t":108,"s":0.727},{"p":"I","g":"low","t":112,"s":0.727},{"p":"I","g":"low","t":116,"s":0.727},{"p":"I","g":"low","t":120,"s":0.727},{"p":"I","g":"low","t":126,"s":0.727},{"p":"I","g":"low","t":130,"s":0.727},{"p":"I","g":"low","t":192,"s":0.727},
{"p":"I","g":"high","t":11,"s":0.917},{"p":"I","g":"high","t":27,"s":0.74},{"p":"I","g":"high","t":31,"s":0.71},{"p":"I","g":"high","t":33,"s":0.71},{"p":"I","g":"high","t":36,"s":0.68},{"p":"I","g":"high","t":39,"s":0.65},{"p":"I","g":"high","t":40,"s":0.65},{"p":"I","g":"high","t":44,"s":0.62},{"p":"I","g":"high","t":48,"s":0.62},{"p":"I","g":"high","t":50,"s":0.62},{"p":"I","g":"high","t":54,"s":0.62},{"p":"I","g":"high","t":56,"s":0.62},{"p":"I","g":"high","t":58,"s":0.62},{"p":"I","g":"high","t":62,"s":0.61},{"p":"I","g":"high","t":74,"s":0.574},{"p":"I","g":"high","t":94,"s":0.574},{"p":"I","g":"high","t":96,"s":0.574},{"p":"I","g":"high","t":108,"s":0.574},{"p":"I","g":"high","t":191,"s":0.574},
{"p":"J","g":"low","t":4,"s":1},{"p":"J","g":"low","t":6,"s":1},{"p":"J","g":"low","t":7,"s":1},{"p":"J","g":"low","t":23,"s":0.82},{"p":"J","g":"low","t":24,"s":0.82},{"p":"J","g":"low","t":25,"s":0.82},{"p":"J","g":"low","t":26,"s":0.82},{"p":"J","g":"low","t":29,"s":0.81},{"p":"J","g":"low","t":30,"s":0.81},{"p":"J","g":"low","t":32,"s":0.81},{"p":"J","g":"low","t":35,"s":0.79},{"p":"J","g":"low","t":44,"s":0.71},{"p":"J","g":"low","t":48,"s":0.68},{"p":"J","g":"low","t":52,"s":0.68},{"p":"J","g":"low","t":62,"s":0.616},{"p":"J","g":"low","t":64,"s":0.616},{"p":"J","g":"low","t":66,"s":0.616},{"p":"J","g":"low","t":70,"s":0.616},{"p":"J","g":"low","t":76,"s":0.616},{"p":"J","g":"low","t":82,"s":0.616},{"p":"J","g":"low","t":88,"s":0.616},{"p":"J","g":"low","t":94,"s":0.616},{"p":"J","g":"low","t":100,"s":0.616},{"p":"J","g":"low","t":104,"s":0.616},{"p":"J","g":"low","t":120,"s":0.616},{"p":"J","g":"low","t":126,"s":0.616},{"p":"J","g":"low","t":130,"s":0.616},{"p":"J","g":"low","t":194,"s":0.616},
{"p":"J","g":"high","t":12,"s":0.88},{"p":"J","g":"high","t":14,"s":0.86},{"p":"J","g":"high","t":16,"s":0.84},{"p":"J","g":"high","t":30,"s":0.72},{"p":"J","g":"high","t":34,"s":0.69},{"p":"J","g":"high","t":36,"s":0.67},{"p":"J","g":"high","t":44,"s":0.65},{"p":"J","g":"high","t":48,"s":0.64},{"p":"J","g":"high","t":50,"s":0.64},{"p":"J","g":"high","t":54,"s":0.631},{"p":"J","g":"high","t":58,"s":0.631},{"p":"J","g":"high","t":66,"s":0.631},{"p":"J","g":"high","t":70,"s":0.631},{"p":"J","g":"high","t":72,"s":0.631},{"p":"J","g":"high","t":80,"s":0.631},{"p":"J","g":"high","t":82,"s":0.631},{"p":"J","g":"high","t":86,"s":0.631},{"p":"J","g":"high","t":90,"s":0.631},{"p":"J","g":"high","t":94,"s":0.631},{"p":"J","g":"high","t":96,"s":0.631},{"p":"J","g":"high","t":98,"s":0.631},{"p":"J","g":"high","t":100,"s":0.631},{"p":"J","g":"high","t":106,"s":0.631},{"p":"J","g":"high","t":108,"s":0.631},{"p":"J","g":"high","t":110,"s":0.631},{"p":"J","g":"high","t":194,"s":0.631}
]
},
"columns": 5,
"spacing": {"row": 82.74, "column": 0},
"bounds": "flush",
"concat": [
{"width":178,"height":145.26,"data":{"name":"info"},"transform":[{"filter":"datum.p=='A'"}],"layer":[
{"data":{"name":"km"},"transform":[{"filter":"datum.p=='A'"}],"mark":{"type":"line","interpolate":"step-after","strokeWidth":1.4},"encoding":{"x":{"field":"t","type":"quantitative","scale":{"domain":[-1,201],"nice":false,"zero":false},"axis":{"orient":"bottom","values":[0,50,100,150,200],"tickCount":12,"title":null,"labelOverlap":false}},"y":{"field":"s","type":"quantitative","scale":{"domain":[-0.04,1.04],"nice":false,"zero":false},"axis":{"orient":"left","values":[0,0.2,0.4,0.6,0.8,1],"tickCount":12,"format":".1f","labelOverlap":false,"title":"Probability","titleX":-18,"titleY":62,"titleAngle":270,"titleBaseline":"bottom","titleAlign":"center"}},"color":{"field":"g","type":"nominal","scale":{"domain":["low","high"],"range":["#000000","#ff0000"]},"legend":null}}},
{"data":{"name":"cen"},"transform":[{"filter":"datum.p=='A'"}],"mark":{"type":"point","shape":"M-1,0L1,0M0,-1L0,1","size":28,"strokeWidth":1.1,"filled":false,"opacity":1},"encoding":{"x":{"field":"t","type":"quantitative"},"y":{"field":"s","type":"quantitative"},"color":{"field":"g","type":"nominal","legend":null}}},
{"mark":{"type":"text","align":"left","baseline":"middle","fontSize":10.5},"encoding":{"x":{"datum":81},"y":{"datum":0.9835},"text":{"field":"hr"}}},
{"mark":{"type":"text","align":"left","baseline":"middle","fontSize":10.5},"encoding":{"x":{"datum":81},"y":{"datum":0.8965},"text":{"field":"lr"}}},
{"mark":{"type":"text","align":"left","baseline":"middle","fontSize":10.5,"text":"Expression"},"encoding":{"x":{"datum":3},"y":{"datum":0.162}}},
{"mark":{"type":"rule","color":"#000000"},"encoding":{"x":{"datum":5},"x2":{"datum":14},"y":{"datum":0.084}}},
{"mark":{"type":"rule","color":"#ff0000"},"encoding":{"x":{"datum":5},"x2":{"datum":14},"y":{"datum":0.007}}},
{"mark":{"type":"text","align":"left","baseline":"middle","fontSize":10.5,"text":"low"},"encoding":{"x":{"datum":17},"y":{"datum":0.084}}},
{"mark":{"type":"text","align":"left","baseline":"middle","fontSize":10.5,"text":"high","color":"#ff0000"},"encoding":{"x":{"datum":17},"y":{"datum":0.007}}},
{"mark":{"type":"text","align":"center","baseline":"middle","fontSize":16},"encoding":{"x":{"datum":-41},"y":{"datum":1.085},"text":{"field":"L"}}},
{"mark":{"type":"text","align":"center","baseline":"middle"},"encoding":{"x":{"datum":117},"y":{"datum":1.14},"text":{"field":"gene"}}},
{"mark":{"type":"text","align":"left","baseline":"middle","text":"Number at risk"},"encoding":{"x":{"datum":-20},"y":{"datum":-0.174}}},
{"mark":{"type":"text","align":"center","baseline":"middle","text":"Time (months)"},"encoding":{"x":{"datum":117},"y":{"datum":-0.174}}},
{"mark":{"type":"text","align":"left","baseline":"middle","text":"low"},"encoding":{"x":{"datum":-20},"y":{"datum":-0.263}}},
{"mark":{"type":"text","align":"left","baseline":"middle","text":"high","color":"#ff0000"},"encoding":{"x":{"datum":-20},"y":{"datum":-0.357}}},
{"data":{"name":"risk"},"transform":[{"filter":"datum.p=='A'&&datum.g=='low'&&datum.t==0"}],"mark":{"type":"text","align":"left","baseline":"middle","dx":4.5},"encoding":{"x":{"field":"t","type":"quantitative"},"y":{"datum":-0.263},"text":{"field":"n"}}},
{"data":{"name":"risk"},"transform":[{"filter":"datum.p=='A'&&datum.g=='low'&&datum.t>0"}],"mark":{"type":"text","align":"center","baseline":"middle"},"encoding":{"x":{"field":"t","type":"quantitative"},"y":{"datum":-0.263},"text":{"field":"n"}}},
{"data":{"name":"risk"},"transform":[{"filter":"datum.p=='A'&&datum.g=='high'&&datum.t==0"}],"mark":{"type":"text","align":"left","baseline":"middle","dx":4.5,"color":"#ff0000"},"encoding":{"x":{"field":"t","type":"quantitative"},"y":{"datum":-0.357},"text":{"field":"n"}}},
{"data":{"name":"risk"},"transform":[{"filter":"datum.p=='A'&&datum.g=='high'&&datum.t>0"}],"mark":{"type":"text","align":"center","baseline":"middle","color":"#ff0000"},"encoding":{"x":{"field":"t","type":"quantitative"},"y":{"datum":-0.357},"text":{"field":"n"}}}
]},
{"width":70.3,"height":1,"view":{"stroke":null},"data":{"values":[]},"mark":"point"},
{"width":174,"height":145.26,"data":{"name":"info"},"transform":[{"filter":"datum.p=='B'"}],"layer":[
{"data":{"name":"km"},"transform":[{"filter":"datum.p=='B'"}],"mark":{"type":"line","interpolate":"step-after","strokeWidth":1.4},"encoding":{"x":{"field":"t","type":"quantitative","scale":{"domain":[-1,201],"nice":false,"zero":false},"axis":{"orient":"bottom","values":[0,50,100,150,200],"tickCount":12,"title":null,"labelOverlap":false}},"y":{"field":"s","type":"quantitative","scale":{"domain":[-0.04,1.04],"nice":false,"zero":false},"axis":{"orient":"left","values":[0,0.2,0.4,0.6,0.8,1],"tickCount":12,"format":".1f","labelOverlap":false,"title":"Probability","titleX":-18,"titleY":62,"titleAngle":270,"titleBaseline":"bottom","titleAlign":"center"}},"color":{"field":"g","type":"nominal","scale":{"domain":["low","high"],"range":["#000000","#ff0000"]},"legend":null}}},
{"data":{"name":"cen"},"transform":[{"filter":"datum.p=='B'"}],"mark":{"type":"point","shape":"M-1,0L1,0M0,-1L0,1","size":28,"strokeWidth":1.1,"filled":false,"opacity":1},"encoding":{"x":{"field":"t","type":"quantitative"},"y":{"field":"s","type":"quantitative"},"color":{"field":"g","type":"nominal","legend":null}}},
{"mark":{"type":"text","align":"left","baseline":"middle","fontSize":10.5},"encoding":{"x":{"datum":81},"y":{"datum":0.9835},"text":{"field":"hr"}}},
{"mark":{"type":"text","align":"left","baseline":"middle","fontSize":10.5},"encoding":{"x":{"datum":81},"y":{"datum":0.8965},"text":{"field":"lr"}}},
{"mark":{"type":"text","align":"left","baseline":"middle","fontSize":10.5,"text":"Expression"},"encoding":{"x":{"datum":3},"y":{"datum":0.162}}},
{"mark":{"type":"rule","color":"#000000"},"encoding":{"x":{"datum":5},"x2":{"datum":14},"y":{"datum":0.084}}},
{"mark":{"type":"rule","color":"#ff0000"},"encoding":{"x":{"datum":5},"x2":{"datum":14},"y":{"datum":0.007}}},
{"mark":{"type":"text","align":"left","baseline":"middle","fontSize":10.5,"text":"low"},"encoding":{"x":{"datum":17},"y":{"datum":0.084}}},
{"mark":{"type":"text","align":"left","baseline":"middle","fontSize":10.5,"text":"high","color":"#ff0000"},"encoding":{"x":{"datum":17},"y":{"datum":0.007}}},
{"mark":{"type":"text","align":"center","baseline":"middle","fontSize":16},"encoding":{"x":{"datum":-41},"y":{"datum":1.085},"text":{"field":"L"}}},
{"mark":{"type":"text","align":"center","baseline":"middle"},"encoding":{"x":{"datum":117},"y":{"datum":1.14},"text":{"field":"gene"}}},
{"mark":{"type":"text","align":"left","baseline":"middle","text":"Number at risk"},"encoding":{"x":{"datum":-20},"y":{"datum":-0.174}}},
{"mark":{"type":"text","align":"center","baseline":"middle","text":"Time (months)"},"encoding":{"x":{"datum":117},"y":{"datum":-0.174}}},
{"mark":{"type":"text","align":"left","baseline":"middle","text":"low"},"encoding":{"x":{"datum":-20},"y":{"datum":-0.263}}},
{"mark":{"type":"text","align":"left","baseline":"middle","text":"high","color":"#ff0000"},"encoding":{"x":{"datum":-20},"y":{"datum":-0.357}}},
{"data":{"name":"risk"},"transform":[{"filter":"datum.p=='B'&&datum.g=='low'&&datum.t==0"}],"mark":{"type":"text","align":"left","baseline":"middle","dx":4.5},"encoding":{"x":{"field":"t","type":"quantitative"},"y":{"datum":-0.263},"text":{"field":"n"}}},
{"data":{"name":"risk"},"transform":[{"filter":"datum.p=='B'&&datum.g=='low'&&datum.t>0"}],"mark":{"type":"text","align":"center","baseline":"middle"},"encoding":{"x":{"field":"t","type":"quantitative"},"y":{"datum":-0.263},"text":{"field":"n"}}},
{"data":{"name":"risk"},"transform":[{"filter":"datum.p=='B'&&datum.g=='high'&&datum.t==0"}],"mark":{"type":"text","align":"left","baseline":"middle","dx":4.5,"color":"#ff0000"},"encoding":{"x":{"field":"t","type":"quantitative"},"y":{"datum":-0.357},"text":{"field":"n"}}},
{"data":{"name":"risk"},"transform":[{"filter":"datum.p=='B'&&datum.g=='high'&&datum.t>0"}],"mark":{"type":"text","align":"center","baseline":"middle","color":"#ff0000"},"encoding":{"x":{"field":"t","type":"quantitative"},"y":{"datum":-0.357},"text":{"field":"n"}}}
]},
{"width":61,"height":1,"view":{"stroke":null},"data":{"values":[]},"mark":"point"},
{"width":172,"height":145.26,"data":{"name":"info"},"transform":[{"filter":"datum.p=='C'"}],"layer":[
{"data":{"name":"km"},"transform":[{"filter":"datum.p=='C'"}],"mark":{"type":"line","interpolate":"step-after","strokeWidth":1.4},"encoding":{"x":{"field":"t","type":"quantitative","scale":{"domain":[-1,201],"nice":false,"zero":false},"axis":{"orient":"bottom","values":[0,50,100,150,200],"tickCount":12,"title":null,"labelOverlap":false}},"y":{"field":"s","type":"quantitative","scale":{"domain":[-0.04,1.04],"nice":false,"zero":false},"axis":{"orient":"left","values":[0,0.2,0.4,0.6,0.8,1],"tickCount":12,"format":".1f","labelOverlap":false,"title":"Probability","titleX":-18,"titleY":62,"titleAngle":270,"titleBaseline":"bottom","titleAlign":"center"}},"color":{"field":"g","type":"nominal","scale":{"domain":["low","high"],"range":["#000000","#ff0000"]},"legend":null}}},
{"data":{"name":"cen"},"transform":[{"filter":"datum.p=='C'"}],"mark":{"type":"point","shape":"M-1,0L1,0M0,-1L0,1","size":28,"strokeWidth":1.1,"filled":false,"opacity":1},"encoding":{"x":{"field":"t","type":"quantitative"},"y":{"field":"s","type":"quantitative"},"color":{"field":"g","type":"nominal","legend":null}}},
{"mark":{"type":"text","align":"left","baseline":"middle","fontSize":10.5},"encoding":{"x":{"datum":81},"y":{"datum":0.9835},"text":{"field":"hr"}}},
{"mark":{"type":"text","align":"left","baseline":"middle","fontSize":10.5},"encoding":{"x":{"datum":81},"y":{"datum":0.8965},"text":{"field":"lr"}}},
{"mark":{"type":"text","align":"left","baseline":"middle","fontSize":10.5,"text":"Expression"},"encoding":{"x":{"datum":3},"y":{"datum":0.162}}},
{"mark":{"type":"rule","color":"#000000"},"encoding":{"x":{"datum":5},"x2":{"datum":14},"y":{"datum":0.084}}},
{"mark":{"type":"rule","color":"#ff0000"},"encoding":{"x":{"datum":5},"x2":{"datum":14},"y":{"datum":0.007}}},
{"mark":{"type":"text","align":"left","baseline":"middle","fontSize":10.5,"text":"low"},"encoding":{"x":{"datum":17},"y":{"datum":0.084}}},
{"mark":{"type":"text","align":"left","baseline":"middle","fontSize":10.5,"text":"high","color":"#ff0000"},"encoding":{"x":{"datum":17},"y":{"datum":0.007}}},
{"mark":{"type":"text","align":"center","baseline":"middle","fontSize":16},"encoding":{"x":{"datum":-41},"y":{"datum":1.085},"text":{"field":"L"}}},
{"mark":{"type":"text","align":"center","baseline":"middle"},"encoding":{"x":{"datum":117},"y":{"datum":1.14},"text":{"field":"gene"}}},
{"mark":{"type":"text","align":"left","baseline":"middle","text":"Number at risk"},"encoding":{"x":{"datum":-20},"y":{"datum":-0.174}}},
{"mark":{"type":"text","align":"center","baseline":"middle","text":"Time (months)"},"encoding":{"x":{"datum":117},"y":{"datum":-0.174}}},
{"mark":{"type":"text","align":"left","baseline":"middle","text":"low"},"encoding":{"x":{"datum":-20},"y":{"datum":-0.263}}},
{"mark":{"type":"text","align":"left","baseline":"middle","text":"high","color":"#ff0000"},"encoding":{"x":{"datum":-20},"y":{"datum":-0.357}}},
{"data":{"name":"risk"},"transform":[{"filter":"datum.p=='C'&&datum.g=='low'&&datum.t==0"}],"mark":{"type":"text","align":"left","baseline":"middle","dx":4.5},"encoding":{"x":{"field":"t","type":"quantitative"},"y":{"datum":-0.263},"text":{"field":"n"}}},
{"data":{"name":"risk"},"transform":[{"filter":"datum.p=='C'&&datum.g=='low'&&datum.t>0"}],"mark":{"type":"text","align":"center","baseline":"middle"},"encoding":{"x":{"field":"t","type":"quantitative"},"y":{"datum":-0.263},"text":{"field":"n"}}},
{"data":{"name":"risk"},"transform":[{"filter":"datum.p=='C'&&datum.g=='high'&&datum.t==0"}],"mark":{"type":"text","align":"left","baseline":"middle","dx":4.5,"color":"#ff0000"},"encoding":{"x":{"field":"t","type":"quantitative"},"y":{"datum":-0.357},"text":{"field":"n"}}},
{"data":{"name":"risk"},"transform":[{"filter":"datum.p=='C'&&datum.g=='high'&&datum.t>0"}],"mark":{"type":"text","align":"center","baseline":"middle","color":"#ff0000"},"encoding":{"x":{"field":"t","type":"quantitative"},"y":{"datum":-0.357},"text":{"field":"n"}}}
]},
{"width":178,"height":145.26,"data":{"name":"info"},"transform":[{"filter":"datum.p=='D'"}],"layer":[
{"data":{"name":"km"},"transform":[{"filter":"datum.p=='D'"}],"mark":{"type":"line","interpolate":"step-after","strokeWidth":1.4},"encoding":{"x":{"field":"t","type":"quantitative","scale":{"domain":[-1,201],"nice":false,"zero":false},"axis":{"orient":"bottom","values":[0,50,100,150,200],"tickCount":12,"title":null,"labelOverlap":false}},"y":{"field":"s","type":"quantitative","scale":{"domain":[-0.04,1.04],"nice":false,"zero":false},"axis":{"orient":"left","values":[0,0.2,0.4,0.6,0.8,1],"tickCount":12,"format":".1f","labelOverlap":false,"title":"Probability","titleX":-18,"titleY":62,"titleAngle":270,"titleBaseline":"bottom","titleAlign":"center"}},"color":{"field":"g","type":"nominal","scale":{"domain":["low","high"],"range":["#000000","#ff0000"]},"legend":null}}},
{"data":{"name":"cen"},"transform":[{"filter":"datum.p=='D'"}],"mark":{"type":"point","shape":"M-1,0L1,0M0,-1L0,1","size":28,"strokeWidth":1.1,"filled":false,"opacity":1},"encoding":{"x":{"field":"t","type":"quantitative"},"y":{"field":"s","type":"quantitative"},"color":{"field":"g","type":"nominal","legend":null}}},
{"mark":{"type":"text","align":"left","baseline":"middle","fontSize":10.5},"encoding":{"x":{"datum":81},"y":{"datum":0.9835},"text":{"field":"hr"}}},
{"mark":{"type":"text","align":"left","baseline":"middle","fontSize":10.5},"encoding":{"x":{"datum":81},"y":{"datum":0.8965},"text":{"field":"lr"}}},
{"mark":{"type":"text","align":"left","baseline":"middle","fontSize":10.5,"text":"Expression"},"encoding":{"x":{"datum":3},"y":{"datum":0.162}}},
{"mark":{"type":"rule","color":"#000000"},"encoding":{"x":{"datum":5},"x2":{"datum":14},"y":{"datum":0.084}}},
{"mark":{"type":"rule","color":"#ff0000"},"encoding":{"x":{"datum":5},"x2":{"datum":14},"y":{"datum":0.007}}},
{"mark":{"type":"text","align":"left","baseline":"middle","fontSize":10.5,"text":"low"},"encoding":{"x":{"datum":17},"y":{"datum":0.084}}},
{"mark":{"type":"text","align":"left","baseline":"middle","fontSize":10.5,"text":"high","color":"#ff0000"},"encoding":{"x":{"datum":17},"y":{"datum":0.007}}},
{"mark":{"type":"text","align":"center","baseline":"middle","fontSize":16},"encoding":{"x":{"datum":-41},"y":{"datum":1.085},"text":{"field":"L"}}},
{"mark":{"type":"text","align":"center","baseline":"middle"},"encoding":{"x":{"datum":117},"y":{"datum":1.14},"text":{"field":"gene"}}},
{"mark":{"type":"text","align":"left","baseline":"middle","text":"Number at risk"},"encoding":{"x":{"datum":-20},"y":{"datum":-0.174}}},
{"mark":{"type":"text","align":"center","baseline":"middle","text":"Time (months)"},"encoding":{"x":{"datum":117},"y":{"datum":-0.174}}},
{"mark":{"type":"text","align":"left","baseline":"middle","text":"low"},"encoding":{"x":{"datum":-20},"y":{"datum":-0.263}}},
{"mark":{"type":"text","align":"left","baseline":"middle","text":"high","color":"#ff0000"},"encoding":{"x":{"datum":-20},"y":{"datum":-0.357}}},
{"data":{"name":"risk"},"transform":[{"filter":"datum.p=='D'&&datum.g=='low'&&datum.t==0"}],"mark":{"type":"text","align":"left","baseline":"middle","dx":4.5},"encoding":{"x":{"field":"t","type":"quantitative"},"y":{"datum":-0.263},"text":{"field":"n"}}},
{"data":{"name":"risk"},"transform":[{"filter":"datum.p=='D'&&datum.g=='low'&&datum.t>0"}],"mark":{"type":"text","align":"center","baseline":"middle"},"encoding":{"x":{"field":"t","type":"quantitative"},"y":{"datum":-0.263},"text":{"field":"n"}}},
{"data":{"name":"risk"},"transform":[{"filter":"datum.p=='D'&&datum.g=='high'&&datum.t==0"}],"mark":{"type":"text","align":"left","baseline":"middle","dx":4.5,"color":"#ff0000"},"encoding":{"x":{"field":"t","type":"quantitative"},"y":{"datum":-0.357},"text":{"field":"n"}}},
{"data":{"name":"risk"},"transform":[{"filter":"datum.p=='D'&&datum.g=='high'&&datum.t>0"}],"mark":{"type":"text","align":"center","baseline":"middle","color":"#ff0000"},"encoding":{"x":{"field":"t","type":"quantitative"},"y":{"datum":-0.357},"text":{"field":"n"}}}
]},
{"width":70.3,"height":1,"view":{"stroke":null},"data":{"values":[]},"mark":"point"},
{"width":174,"height":145.26,"data":{"name":"info"},"transform":[{"filter":"datum.p=='E'"}],"layer":[
{"data":{"name":"km"},"transform":[{"filter":"datum.p=='E'"}],"mark":{"type":"line","interpolate":"step-after","strokeWidth":1.4},"encoding":{"x":{"field":"t","type":"quantitative","scale":{"domain":[-1,201],"nice":false,"zero":false},"axis":{"orient":"bottom","values":[0,50,100,150,200],"tickCount":12,"title":null,"labelOverlap":false}},"y":{"field":"s","type":"quantitative","scale":{"domain":[-0.04,1.04],"nice":false,"zero":false},"axis":{"orient":"left","values":[0,0.2,0.4,0.6,0.8,1],"tickCount":12,"format":".1f","labelOverlap":false,"title":"Probability","titleX":-18,"titleY":62,"titleAngle":270,"titleBaseline":"bottom","titleAlign":"center"}},"color":{"field":"g","type":"nominal","scale":{"domain":["low","high"],"range":["#000000","#ff0000"]},"legend":null}}},
{"data":{"name":"cen"},"transform":[{"filter":"datum.p=='E'"}],"mark":{"type":"point","shape":"M-1,0L1,0M0,-1L0,1","size":28,"strokeWidth":1.1,"filled":false,"opacity":1},"encoding":{"x":{"field":"t","type":"quantitative"},"y":{"field":"s","type":"quantitative"},"color":{"field":"g","type":"nominal","legend":null}}},
{"mark":{"type":"text","align":"left","baseline":"middle","fontSize":10.5},"encoding":{"x":{"datum":81},"y":{"datum":0.9835},"text":{"field":"hr"}}},
{"mark":{"type":"text","align":"left","baseline":"middle","fontSize":10.5},"encoding":{"x":{"datum":81},"y":{"datum":0.8965},"text":{"field":"lr"}}},
{"mark":{"type":"text","align":"left","baseline":"middle","fontSize":10.5,"text":"Expression"},"encoding":{"x":{"datum":3},"y":{"datum":0.162}}},
{"mark":{"type":"rule","color":"#000000"},"encoding":{"x":{"datum":5},"x2":{"datum":14},"y":{"datum":0.084}}},
{"mark":{"type":"rule","color":"#ff0000"},"encoding":{"x":{"datum":5},"x2":{"datum":14},"y":{"datum":0.007}}},
{"mark":{"type":"text","align":"left","baseline":"middle","fontSize":10.5,"text":"low"},"encoding":{"x":{"datum":17},"y":{"datum":0.084}}},
{"mark":{"type":"text","align":"left","baseline":"middle","fontSize":10.5,"text":"high","color":"#ff0000"},"encoding":{"x":{"datum":17},"y":{"datum":0.007}}},
{"mark":{"type":"text","align":"center","baseline":"middle","fontSize":16},"encoding":{"x":{"datum":-41},"y":{"datum":1.085},"text":{"field":"L"}}},
{"mark":{"type":"text","align":"center","baseline":"middle"},"encoding":{"x":{"datum":117},"y":{"datum":1.14},"text":{"field":"gene"}}},
{"mark":{"type":"text","align":"left","baseline":"middle","text":"Number at risk"},"encoding":{"x":{"datum":-20},"y":{"datum":-0.174}}},
{"mark":{"type":"text","align":"center","baseline":"middle","text":"Time (months)"},"encoding":{"x":{"datum":117},"y":{"datum":-0.174}}},
{"mark":{"type":"text","align":"left","baseline":"middle","text":"low"},"encoding":{"x":{"datum":-20},"y":{"datum":-0.263}}},
{"mark":{"type":"text","align":"left","baseline":"middle","text":"high","color":"#ff0000"},"encoding":{"x":{"datum":-20},"y":{"datum":-0.357}}},
{"data":{"name":"risk"},"transform":[{"filter":"datum.p=='E'&&datum.g=='low'&&datum.t==0"}],"mark":{"type":"text","align":"left","baseline":"middle","dx":4.5},"encoding":{"x":{"field":"t","type":"quantitative"},"y":{"datum":-0.263},"text":{"field":"n"}}},
{"data":{"name":"risk"},"transform":[{"filter":"datum.p=='E'&&datum.g=='low'&&datum.t>0"}],"mark":{"type":"text","align":"center","baseline":"middle"},"encoding":{"x":{"field":"t","type":"quantitative"},"y":{"datum":-0.263},"text":{"field":"n"}}},
{"data":{"name":"risk"},"transform":[{"filter":"datum.p=='E'&&datum.g=='high'&&datum.t==0"}],"mark":{"type":"text","align":"left","baseline":"middle","dx":4.5,"color":"#ff0000"},"encoding":{"x":{"field":"t","type":"quantitative"},"y":{"datum":-0.357},"text":{"field":"n"}}},
{"data":{"name":"risk"},"transform":[{"filter":"datum.p=='E'&&datum.g=='high'&&datum.t>0"}],"mark":{"type":"text","align":"center","baseline":"middle","color":"#ff0000"},"encoding":{"x":{"field":"t","type":"quantitative"},"y":{"datum":-0.357},"text":{"field":"n"}}}
]},
{"width":61,"height":1,"view":{"stroke":null},"data":{"values":[]},"mark":"point"},
{"width":172,"height":145.26,"data":{"name":"info"},"transform":[{"filter":"datum.p=='F'"}],"layer":[
{"data":{"name":"km"},"transform":[{"filter":"datum.p=='F'"}],"mark":{"type":"line","interpolate":"step-after","strokeWidth":1.4},"encoding":{"x":{"field":"t","type":"quantitative","scale":{"domain":[-1,201],"nice":false,"zero":false},"axis":{"orient":"bottom","values":[0,50,100,150,200],"tickCount":12,"title":null,"labelOverlap":false}},"y":{"field":"s","type":"quantitative","scale":{"domain":[-0.04,1.04],"nice":false,"zero":false},"axis":{"orient":"left","values":[0,0.2,0.4,0.6,0.8,1],"tickCount":12,"format":".1f","labelOverlap":false,"title":"Probability","titleX":-18,"titleY":62,"titleAngle":270,"titleBaseline":"bottom","titleAlign":"center"}},"color":{"field":"g","type":"nominal","scale":{"domain":["low","high"],"range":["#000000","#ff0000"]},"legend":null}}},
{"data":{"name":"cen"},"transform":[{"filter":"datum.p=='F'"}],"mark":{"type":"point","shape":"M-1,0L1,0M0,-1L0,1","size":28,"strokeWidth":1.1,"filled":false,"opacity":1},"encoding":{"x":{"field":"t","type":"quantitative"},"y":{"field":"s","type":"quantitative"},"color":{"field":"g","type":"nominal","legend":null}}},
{"mark":{"type":"text","align":"left","baseline":"middle","fontSize":10.5},"encoding":{"x":{"datum":81},"y":{"datum":0.9835},"text":{"field":"hr"}}},
{"mark":{"type":"text","align":"left","baseline":"middle","fontSize":10.5},"encoding":{"x":{"datum":81},"y":{"datum":0.8965},"text":{"field":"lr"}}},
{"mark":{"type":"text","align":"left","baseline":"middle","fontSize":10.5,"text":"Expression"},"encoding":{"x":{"datum":3},"y":{"datum":0.162}}},
{"mark":{"type":"rule","color":"#000000"},"encoding":{"x":{"datum":5},"x2":{"datum":14},"y":{"datum":0.084}}},
{"mark":{"type":"rule","color":"#ff0000"},"encoding":{"x":{"datum":5},"x2":{"datum":14},"y":{"datum":0.007}}},
{"mark":{"type":"text","align":"left","baseline":"middle","fontSize":10.5,"text":"low"},"encoding":{"x":{"datum":17},"y":{"datum":0.084}}},
{"mark":{"type":"text","align":"left","baseline":"middle","fontSize":10.5,"text":"high","color":"#ff0000"},"encoding":{"x":{"datum":17},"y":{"datum":0.007}}},
{"mark":{"type":"text","align":"center","baseline":"middle","fontSize":16},"encoding":{"x":{"datum":-41},"y":{"datum":1.085},"text":{"field":"L"}}},
{"mark":{"type":"text","align":"center","baseline":"middle"},"encoding":{"x":{"datum":117},"y":{"datum":1.14},"text":{"field":"gene"}}},
{"mark":{"type":"text","align":"left","baseline":"middle","text":"Number at risk"},"encoding":{"x":{"datum":-20},"y":{"datum":-0.174}}},
{"mark":{"type":"text","align":"center","baseline":"middle","text":"Time (months)"},"encoding":{"x":{"datum":117},"y":{"datum":-0.174}}},
{"mark":{"type":"text","align":"left","baseline":"middle","text":"low"},"encoding":{"x":{"datum":-20},"y":{"datum":-0.263}}},
{"mark":{"type":"text","align":"left","baseline":"middle","text":"high","color":"#ff0000"},"encoding":{"x":{"datum":-20},"y":{"datum":-0.357}}},
{"data":{"name":"risk"},"transform":[{"filter":"datum.p=='F'&&datum.g=='low'&&datum.t==0"}],"mark":{"type":"text","align":"left","baseline":"middle","dx":4.5},"encoding":{"x":{"field":"t","type":"quantitative"},"y":{"datum":-0.263},"text":{"field":"n"}}},
{"data":{"name":"risk"},"transform":[{"filter":"datum.p=='F'&&datum.g=='low'&&datum.t>0"}],"mark":{"type":"text","align":"center","baseline":"middle"},"encoding":{"x":{"field":"t","type":"quantitative"},"y":{"datum":-0.263},"text":{"field":"n"}}},
{"data":{"name":"risk"},"transform":[{"filter":"datum.p=='F'&&datum.g=='high'&&datum.t==0"}],"mark":{"type":"text","align":"left","baseline":"middle","dx":4.5,"color":"#ff0000"},"encoding":{"x":{"field":"t","type":"quantitative"},"y":{"datum":-0.357},"text":{"field":"n"}}},
{"data":{"name":"risk"},"transform":[{"filter":"datum.p=='F'&&datum.g=='high'&&datum.t>0"}],"mark":{"type":"text","align":"center","baseline":"middle","color":"#ff0000"},"encoding":{"x":{"field":"t","type":"quantitative"},"y":{"datum":-0.357},"text":{"field":"n"}}}
]},
{"width":178,"height":145.26,"data":{"name":"info"},"transform":[{"filter":"datum.p=='G'"}],"layer":[
{"data":{"name":"km"},"transform":[{"filter":"datum.p=='G'"}],"mark":{"type":"line","interpolate":"step-after","strokeWidth":1.4},"encoding":{"x":{"field":"t","type":"quantitative","scale":{"domain":[-1,201],"nice":false,"zero":false},"axis":{"orient":"bottom","values":[0,50,100,150,200],"tickCount":12,"title":null,"labelOverlap":false}},"y":{"field":"s","type":"quantitative","scale":{"domain":[-0.04,1.04],"nice":false,"zero":false},"axis":{"orient":"left","values":[0,0.2,0.4,0.6,0.8,1],"tickCount":12,"format":".1f","labelOverlap":false,"title":"Probability","titleX":-18,"titleY":62,"titleAngle":270,"titleBaseline":"bottom","titleAlign":"center"}},"color":{"field":"g","type":"nominal","scale":{"domain":["low","high"],"range":["#000000","#ff0000"]},"legend":null}}},
{"data":{"name":"cen"},"transform":[{"filter":"datum.p=='G'"}],"mark":{"type":"point","shape":"M-1,0L1,0M0,-1L0,1","size":28,"strokeWidth":1.1,"filled":false,"opacity":1},"encoding":{"x":{"field":"t","type":"quantitative"},"y":{"field":"s","type":"quantitative"},"color":{"field":"g","type":"nominal","legend":null}}},
{"mark":{"type":"text","align":"left","baseline":"middle","fontSize":10.5},"encoding":{"x":{"datum":84},"y":{"datum":0.9835},"text":{"field":"hr"}}},
{"mark":{"type":"text","align":"left","baseline":"middle","fontSize":10.5},"encoding":{"x":{"datum":84},"y":{"datum":0.8965},"text":{"field":"lr"}}},
{"mark":{"type":"text","align":"left","baseline":"middle","fontSize":10.5,"text":"Expression"},"encoding":{"x":{"datum":3},"y":{"datum":0.162}}},
{"mark":{"type":"rule","color":"#000000"},"encoding":{"x":{"datum":5},"x2":{"datum":14},"y":{"datum":0.084}}},
{"mark":{"type":"rule","color":"#ff0000"},"encoding":{"x":{"datum":5},"x2":{"datum":14},"y":{"datum":0.007}}},
{"mark":{"type":"text","align":"left","baseline":"middle","fontSize":10.5,"text":"low"},"encoding":{"x":{"datum":17},"y":{"datum":0.084}}},
{"mark":{"type":"text","align":"left","baseline":"middle","fontSize":10.5,"text":"high","color":"#ff0000"},"encoding":{"x":{"datum":17},"y":{"datum":0.007}}},
{"mark":{"type":"text","align":"center","baseline":"middle","fontSize":16},"encoding":{"x":{"datum":-41},"y":{"datum":1.085},"text":{"field":"L"}}},
{"mark":{"type":"text","align":"center","baseline":"middle"},"encoding":{"x":{"datum":117},"y":{"datum":1.14},"text":{"field":"gene"}}},
{"mark":{"type":"text","align":"left","baseline":"middle","text":"Number at risk"},"encoding":{"x":{"datum":-20},"y":{"datum":-0.174}}},
{"mark":{"type":"text","align":"center","baseline":"middle","text":"Time (months)"},"encoding":{"x":{"datum":117},"y":{"datum":-0.174}}},
{"mark":{"type":"text","align":"left","baseline":"middle","text":"low"},"encoding":{"x":{"datum":-20},"y":{"datum":-0.263}}},
{"mark":{"type":"text","align":"left","baseline":"middle","text":"high","color":"#ff0000"},"encoding":{"x":{"datum":-20},"y":{"datum":-0.357}}},
{"data":{"name":"risk"},"transform":[{"filter":"datum.p=='G'&&datum.g=='low'&&datum.t==0"}],"mark":{"type":"text","align":"left","baseline":"middle","dx":4.5},"encoding":{"x":{"field":"t","type":"quantitative"},"y":{"datum":-0.263},"text":{"field":"n"}}},
{"data":{"name":"risk"},"transform":[{"filter":"datum.p=='G'&&datum.g=='low'&&datum.t>0"}],"mark":{"type":"text","align":"center","baseline":"middle"},"encoding":{"x":{"field":"t","type":"quantitative"},"y":{"datum":-0.263},"text":{"field":"n"}}},
{"data":{"name":"risk"},"transform":[{"filter":"datum.p=='G'&&datum.g=='high'&&datum.t==0"}],"mark":{"type":"text","align":"left","baseline":"middle","dx":4.5,"color":"#ff0000"},"encoding":{"x":{"field":"t","type":"quantitative"},"y":{"datum":-0.357},"text":{"field":"n"}}},
{"data":{"name":"risk"},"transform":[{"filter":"datum.p=='G'&&datum.g=='high'&&datum.t>0"}],"mark":{"type":"text","align":"center","baseline":"middle","color":"#ff0000"},"encoding":{"x":{"field":"t","type":"quantitative"},"y":{"datum":-0.357},"text":{"field":"n"}}}
]},
{"width":70.3,"height":1,"view":{"stroke":null},"data":{"values":[]},"mark":"point"},
{"width":174,"height":145.26,"data":{"name":"info"},"transform":[{"filter":"datum.p=='H'"}],"layer":[
{"data":{"name":"km"},"transform":[{"filter":"datum.p=='H'"}],"mark":{"type":"line","interpolate":"step-after","strokeWidth":1.4},"encoding":{"x":{"field":"t","type":"quantitative","scale":{"domain":[-1,201],"nice":false,"zero":false},"axis":{"orient":"bottom","values":[0,50,100,150,200],"tickCount":12,"title":null,"labelOverlap":false}},"y":{"field":"s","type":"quantitative","scale":{"domain":[-0.04,1.04],"nice":false,"zero":false},"axis":{"orient":"left","values":[0,0.2,0.4,0.6,0.8,1],"tickCount":12,"format":".1f","labelOverlap":false,"title":"Probability","titleX":-18,"titleY":62,"titleAngle":270,"titleBaseline":"bottom","titleAlign":"center"}},"color":{"field":"g","type":"nominal","scale":{"domain":["low","high"],"range":["#000000","#ff0000"]},"legend":null}}},
{"data":{"name":"cen"},"transform":[{"filter":"datum.p=='H'"}],"mark":{"type":"point","shape":"M-1,0L1,0M0,-1L0,1","size":28,"strokeWidth":1.1,"filled":false,"opacity":1},"encoding":{"x":{"field":"t","type":"quantitative"},"y":{"field":"s","type":"quantitative"},"color":{"field":"g","type":"nominal","legend":null}}},
{"mark":{"type":"text","align":"left","baseline":"middle","fontSize":10.5},"encoding":{"x":{"datum":81},"y":{"datum":0.9835},"text":{"field":"hr"}}},
{"mark":{"type":"text","align":"left","baseline":"middle","fontSize":10.5},"encoding":{"x":{"datum":81},"y":{"datum":0.8965},"text":{"field":"lr"}}},
{"mark":{"type":"text","align":"left","baseline":"middle","fontSize":10.5,"text":"Expression"},"encoding":{"x":{"datum":3},"y":{"datum":0.162}}},
{"mark":{"type":"rule","color":"#000000"},"encoding":{"x":{"datum":5},"x2":{"datum":14},"y":{"datum":0.084}}},
{"mark":{"type":"rule","color":"#ff0000"},"encoding":{"x":{"datum":5},"x2":{"datum":14},"y":{"datum":0.007}}},
{"mark":{"type":"text","align":"left","baseline":"middle","fontSize":10.5,"text":"low"},"encoding":{"x":{"datum":17},"y":{"datum":0.084}}},
{"mark":{"type":"text","align":"left","baseline":"middle","fontSize":10.5,"text":"high","color":"#ff0000"},"encoding":{"x":{"datum":17},"y":{"datum":0.007}}},
{"mark":{"type":"text","align":"center","baseline":"middle","fontSize":16},"encoding":{"x":{"datum":-41},"y":{"datum":1.085},"text":{"field":"L"}}},
{"mark":{"type":"text","align":"center","baseline":"middle"},"encoding":{"x":{"datum":117},"y":{"datum":1.14},"text":{"field":"gene"}}},
{"mark":{"type":"text","align":"left","baseline":"middle","text":"Number at risk"},"encoding":{"x":{"datum":-20},"y":{"datum":-0.174}}},
{"mark":{"type":"text","align":"center","baseline":"middle","text":"Time (months)"},"encoding":{"x":{"datum":117},"y":{"datum":-0.174}}},
{"mark":{"type":"text","align":"left","baseline":"middle","text":"low"},"encoding":{"x":{"datum":-20},"y":{"datum":-0.263}}},
{"mark":{"type":"text","align":"left","baseline":"middle","text":"high","color":"#ff0000"},"encoding":{"x":{"datum":-20},"y":{"datum":-0.357}}},
{"data":{"name":"risk"},"transform":[{"filter":"datum.p=='H'&&datum.g=='low'&&datum.t==0"}],"mark":{"type":"text","align":"left","baseline":"middle","dx":4.5},"encoding":{"x":{"field":"t","type":"quantitative"},"y":{"datum":-0.263},"text":{"field":"n"}}},
{"data":{"name":"risk"},"transform":[{"filter":"datum.p=='H'&&datum.g=='low'&&datum.t>0"}],"mark":{"type":"text","align":"center","baseline":"middle"},"encoding":{"x":{"field":"t","type":"quantitative"},"y":{"datum":-0.263},"text":{"field":"n"}}},
{"data":{"name":"risk"},"transform":[{"filter":"datum.p=='H'&&datum.g=='high'&&datum.t==0"}],"mark":{"type":"text","align":"left","baseline":"middle","dx":4.5,"color":"#ff0000"},"encoding":{"x":{"field":"t","type":"quantitative"},"y":{"datum":-0.357},"text":{"field":"n"}}},
{"data":{"name":"risk"},"transform":[{"filter":"datum.p=='H'&&datum.g=='high'&&datum.t>0"}],"mark":{"type":"text","align":"center","baseline":"middle","color":"#ff0000"},"encoding":{"x":{"field":"t","type":"quantitative"},"y":{"datum":-0.357},"text":{"field":"n"}}}
]},
{"width":61,"height":1,"view":{"stroke":null},"data":{"values":[]},"mark":"point"},
{"width":172,"height":145.26,"data":{"name":"info"},"transform":[{"filter":"datum.p=='I'"}],"layer":[
{"data":{"name":"km"},"transform":[{"filter":"datum.p=='I'"}],"mark":{"type":"line","interpolate":"step-after","strokeWidth":1.4},"encoding":{"x":{"field":"t","type":"quantitative","scale":{"domain":[-1,201],"nice":false,"zero":false},"axis":{"orient":"bottom","values":[0,50,100,150,200],"tickCount":12,"title":null,"labelOverlap":false}},"y":{"field":"s","type":"quantitative","scale":{"domain":[-0.04,1.04],"nice":false,"zero":false},"axis":{"orient":"left","values":[0,0.2,0.4,0.6,0.8,1],"tickCount":12,"format":".1f","labelOverlap":false,"title":"Probability","titleX":-18,"titleY":62,"titleAngle":270,"titleBaseline":"bottom","titleAlign":"center"}},"color":{"field":"g","type":"nominal","scale":{"domain":["low","high"],"range":["#000000","#ff0000"]},"legend":null}}},
{"data":{"name":"cen"},"transform":[{"filter":"datum.p=='I'"}],"mark":{"type":"point","shape":"M-1,0L1,0M0,-1L0,1","size":28,"strokeWidth":1.1,"filled":false,"opacity":1},"encoding":{"x":{"field":"t","type":"quantitative"},"y":{"field":"s","type":"quantitative"},"color":{"field":"g","type":"nominal","legend":null}}},
{"mark":{"type":"text","align":"left","baseline":"middle","fontSize":10.5},"encoding":{"x":{"datum":85},"y":{"datum":0.9835},"text":{"field":"hr"}}},
{"mark":{"type":"text","align":"left","baseline":"middle","fontSize":10.5},"encoding":{"x":{"datum":85},"y":{"datum":0.8965},"text":{"field":"lr"}}},
{"mark":{"type":"text","align":"left","baseline":"middle","fontSize":10.5,"text":"Expression"},"encoding":{"x":{"datum":3},"y":{"datum":0.162}}},
{"mark":{"type":"rule","color":"#000000"},"encoding":{"x":{"datum":5},"x2":{"datum":14},"y":{"datum":0.084}}},
{"mark":{"type":"rule","color":"#ff0000"},"encoding":{"x":{"datum":5},"x2":{"datum":14},"y":{"datum":0.007}}},
{"mark":{"type":"text","align":"left","baseline":"middle","fontSize":10.5,"text":"low"},"encoding":{"x":{"datum":17},"y":{"datum":0.084}}},
{"mark":{"type":"text","align":"left","baseline":"middle","fontSize":10.5,"text":"high","color":"#ff0000"},"encoding":{"x":{"datum":17},"y":{"datum":0.007}}},
{"mark":{"type":"text","align":"center","baseline":"middle","fontSize":16},"encoding":{"x":{"datum":-41},"y":{"datum":1.085},"text":{"field":"L"}}},
{"mark":{"type":"text","align":"center","baseline":"middle"},"encoding":{"x":{"datum":117},"y":{"datum":1.14},"text":{"field":"gene"}}},
{"mark":{"type":"text","align":"left","baseline":"middle","text":"Number at risk"},"encoding":{"x":{"datum":-20},"y":{"datum":-0.174}}},
{"mark":{"type":"text","align":"center","baseline":"middle","text":"Time (months)"},"encoding":{"x":{"datum":117},"y":{"datum":-0.174}}},
{"mark":{"type":"text","align":"left","baseline":"middle","text":"low"},"encoding":{"x":{"datum":-20},"y":{"datum":-0.263}}},
{"mark":{"type":"text","align":"left","baseline":"middle","text":"high","color":"#ff0000"},"encoding":{"x":{"datum":-20},"y":{"datum":-0.357}}},
{"data":{"name":"risk"},"transform":[{"filter":"datum.p=='I'&&datum.g=='low'&&datum.t==0"}],"mark":{"type":"text","align":"left","baseline":"middle","dx":4.5},"encoding":{"x":{"field":"t","type":"quantitative"},"y":{"datum":-0.263},"text":{"field":"n"}}},
{"data":{"name":"risk"},"transform":[{"filter":"datum.p=='I'&&datum.g=='low'&&datum.t>0"}],"mark":{"type":"text","align":"center","baseline":"middle"},"encoding":{"x":{"field":"t","type":"quantitative"},"y":{"datum":-0.263},"text":{"field":"n"}}},
{"data":{"name":"risk"},"transform":[{"filter":"datum.p=='I'&&datum.g=='high'&&datum.t==0"}],"mark":{"type":"text","align":"left","baseline":"middle","dx":4.5,"color":"#ff0000"},"encoding":{"x":{"field":"t","type":"quantitative"},"y":{"datum":-0.357},"text":{"field":"n"}}},
{"data":{"name":"risk"},"transform":[{"filter":"datum.p=='I'&&datum.g=='high'&&datum.t>0"}],"mark":{"type":"text","align":"center","baseline":"middle","color":"#ff0000"},"encoding":{"x":{"field":"t","type":"quantitative"},"y":{"datum":-0.357},"text":{"field":"n"}}}
]},
{"width":178,"height":145.26,"data":{"name":"info"},"transform":[{"filter":"datum.p=='J'"}],"layer":[
{"data":{"name":"km"},"transform":[{"filter":"datum.p=='J'"}],"mark":{"type":"line","interpolate":"step-after","strokeWidth":1.4},"encoding":{"x":{"field":"t","type":"quantitative","scale":{"domain":[-1,201],"nice":false,"zero":false},"axis":{"orient":"bottom","values":[0,50,100,150,200],"tickCount":12,"title":null,"labelOverlap":false}},"y":{"field":"s","type":"quantitative","scale":{"domain":[-0.04,1.04],"nice":false,"zero":false},"axis":{"orient":"left","values":[0,0.2,0.4,0.6,0.8,1],"tickCount":12,"format":".1f","labelOverlap":false,"title":"Probability","titleX":-18,"titleY":62,"titleAngle":270,"titleBaseline":"bottom","titleAlign":"center"}},"color":{"field":"g","type":"nominal","scale":{"domain":["low","high"],"range":["#000000","#ff0000"]},"legend":null}}},
{"data":{"name":"cen"},"transform":[{"filter":"datum.p=='J'"}],"mark":{"type":"point","shape":"M-1,0L1,0M0,-1L0,1","size":28,"strokeWidth":1.1,"filled":false,"opacity":1},"encoding":{"x":{"field":"t","type":"quantitative"},"y":{"field":"s","type":"quantitative"},"color":{"field":"g","type":"nominal","legend":null}}},
{"mark":{"type":"text","align":"left","baseline":"middle","fontSize":10.5},"encoding":{"x":{"datum":81},"y":{"datum":0.9835},"text":{"field":"hr"}}},
{"mark":{"type":"text","align":"left","baseline":"middle","fontSize":10.5},"encoding":{"x":{"datum":81},"y":{"datum":0.8965},"text":{"field":"lr"}}},
{"mark":{"type":"text","align":"left","baseline":"middle","fontSize":10.5,"text":"Expression"},"encoding":{"x":{"datum":3},"y":{"datum":0.162}}},
{"mark":{"type":"rule","color":"#000000"},"encoding":{"x":{"datum":5},"x2":{"datum":14},"y":{"datum":0.084}}},
{"mark":{"type":"rule","color":"#ff0000"},"encoding":{"x":{"datum":5},"x2":{"datum":14},"y":{"datum":0.007}}},
{"mark":{"type":"text","align":"left","baseline":"middle","fontSize":10.5,"text":"low"},"encoding":{"x":{"datum":17},"y":{"datum":0.084}}},
{"mark":{"type":"text","align":"left","baseline":"middle","fontSize":10.5,"text":"high","color":"#ff0000"},"encoding":{"x":{"datum":17},"y":{"datum":0.007}}},
{"mark":{"type":"text","align":"center","baseline":"middle","fontSize":16},"encoding":{"x":{"datum":-41},"y":{"datum":1.085},"text":{"field":"L"}}},
{"mark":{"type":"text","align":"center","baseline":"middle"},"encoding":{"x":{"datum":117},"y":{"datum":1.14},"text":{"field":"gene"}}},
{"mark":{"type":"text","align":"left","baseline":"middle","text":"Number at risk"},"encoding":{"x":{"datum":-20},"y":{"datum":-0.174}}},
{"mark":{"type":"text","align":"center","baseline":"middle","text":"Time (months)"},"encoding":{"x":{"datum":117},"y":{"datum":-0.174}}},
{"mark":{"type":"text","align":"left","baseline":"middle","text":"low"},"encoding":{"x":{"datum":-20},"y":{"datum":-0.263}}},
{"mark":{"type":"text","align":"left","baseline":"middle","text":"high","color":"#ff0000"},"encoding":{"x":{"datum":-20},"y":{"datum":-0.357}}},
{"data":{"name":"risk"},"transform":[{"filter":"datum.p=='J'&&datum.g=='low'&&datum.t==0"}],"mark":{"type":"text","align":"left","baseline":"middle","dx":4.5},"encoding":{"x":{"field":"t","type":"quantitative"},"y":{"datum":-0.263},"text":{"field":"n"}}},
{"data":{"name":"risk"},"transform":[{"filter":"datum.p=='J'&&datum.g=='low'&&datum.t>0"}],"mark":{"type":"text","align":"center","baseline":"middle"},"encoding":{"x":{"field":"t","type":"quantitative"},"y":{"datum":-0.263},"text":{"field":"n"}}},
{"data":{"name":"risk"},"transform":[{"filter":"datum.p=='J'&&datum.g=='high'&&datum.t==0"}],"mark":{"type":"text","align":"left","baseline":"middle","dx":4.5,"color":"#ff0000"},"encoding":{"x":{"field":"t","type":"quantitative"},"y":{"datum":-0.357},"text":{"field":"n"}}},
{"data":{"name":"risk"},"transform":[{"filter":"datum.p=='J'&&datum.g=='high'&&datum.t>0"}],"mark":{"type":"text","align":"center","baseline":"middle","color":"#ff0000"},"encoding":{"x":{"field":"t","type":"quantitative"},"y":{"datum":-0.357},"text":{"field":"n"}}}
]}
]
}
